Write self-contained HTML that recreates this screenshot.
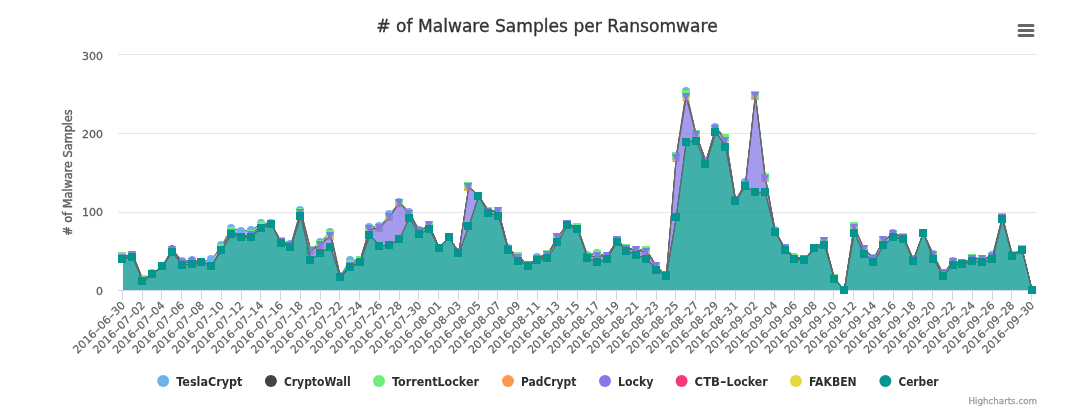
<!DOCTYPE html>
<html lang="en"><head><meta charset="utf-8"><title># of Malware Samples per Ransomware</title>
<style>html,body{margin:0;padding:0;background:#fff;overflow:hidden}svg{display:block}</style></head>
<body>
<svg width="1083" height="416" viewBox="0 0 1083 416" style="font-family:'DejaVu Sans','Liberation Sans',sans-serif;font-size:12px">
<rect x="0" y="0" width="1083" height="416" fill="#ffffff"/>
<path d="M 118 54.5 L 1037 54.5" stroke="#e6e6e6" stroke-width="1" fill="none"/>
<path d="M 118 133.5 L 1037 133.5" stroke="#e6e6e6" stroke-width="1" fill="none"/>
<path d="M 118 212.5 L 1037 212.5" stroke="#e6e6e6" stroke-width="1" fill="none"/>
<path d="M 118 290.5 L 1037 290.5" stroke="#ccd6eb" stroke-width="1" fill="none"/>
<path d="M 122.5 290 L 122.5 300" stroke="#ccd6eb" stroke-width="1" fill="none"/>
<path d="M 142.5 290 L 142.5 300" stroke="#ccd6eb" stroke-width="1" fill="none"/>
<path d="M 161.5 290 L 161.5 300" stroke="#ccd6eb" stroke-width="1" fill="none"/>
<path d="M 181.5 290 L 181.5 300" stroke="#ccd6eb" stroke-width="1" fill="none"/>
<path d="M 201.5 290 L 201.5 300" stroke="#ccd6eb" stroke-width="1" fill="none"/>
<path d="M 221.5 290 L 221.5 300" stroke="#ccd6eb" stroke-width="1" fill="none"/>
<path d="M 241.5 290 L 241.5 300" stroke="#ccd6eb" stroke-width="1" fill="none"/>
<path d="M 260.5 290 L 260.5 300" stroke="#ccd6eb" stroke-width="1" fill="none"/>
<path d="M 280.5 290 L 280.5 300" stroke="#ccd6eb" stroke-width="1" fill="none"/>
<path d="M 300.5 290 L 300.5 300" stroke="#ccd6eb" stroke-width="1" fill="none"/>
<path d="M 320.5 290 L 320.5 300" stroke="#ccd6eb" stroke-width="1" fill="none"/>
<path d="M 339.5 290 L 339.5 300" stroke="#ccd6eb" stroke-width="1" fill="none"/>
<path d="M 359.5 290 L 359.5 300" stroke="#ccd6eb" stroke-width="1" fill="none"/>
<path d="M 379.5 290 L 379.5 300" stroke="#ccd6eb" stroke-width="1" fill="none"/>
<path d="M 399.5 290 L 399.5 300" stroke="#ccd6eb" stroke-width="1" fill="none"/>
<path d="M 418.5 290 L 418.5 300" stroke="#ccd6eb" stroke-width="1" fill="none"/>
<path d="M 438.5 290 L 438.5 300" stroke="#ccd6eb" stroke-width="1" fill="none"/>
<path d="M 458.5 290 L 458.5 300" stroke="#ccd6eb" stroke-width="1" fill="none"/>
<path d="M 478.5 290 L 478.5 300" stroke="#ccd6eb" stroke-width="1" fill="none"/>
<path d="M 497.5 290 L 497.5 300" stroke="#ccd6eb" stroke-width="1" fill="none"/>
<path d="M 517.5 290 L 517.5 300" stroke="#ccd6eb" stroke-width="1" fill="none"/>
<path d="M 537.5 290 L 537.5 300" stroke="#ccd6eb" stroke-width="1" fill="none"/>
<path d="M 557.5 290 L 557.5 300" stroke="#ccd6eb" stroke-width="1" fill="none"/>
<path d="M 577.5 290 L 577.5 300" stroke="#ccd6eb" stroke-width="1" fill="none"/>
<path d="M 596.5 290 L 596.5 300" stroke="#ccd6eb" stroke-width="1" fill="none"/>
<path d="M 616.5 290 L 616.5 300" stroke="#ccd6eb" stroke-width="1" fill="none"/>
<path d="M 636.5 290 L 636.5 300" stroke="#ccd6eb" stroke-width="1" fill="none"/>
<path d="M 656.5 290 L 656.5 300" stroke="#ccd6eb" stroke-width="1" fill="none"/>
<path d="M 675.5 290 L 675.5 300" stroke="#ccd6eb" stroke-width="1" fill="none"/>
<path d="M 695.5 290 L 695.5 300" stroke="#ccd6eb" stroke-width="1" fill="none"/>
<path d="M 715.5 290 L 715.5 300" stroke="#ccd6eb" stroke-width="1" fill="none"/>
<path d="M 735.5 290 L 735.5 300" stroke="#ccd6eb" stroke-width="1" fill="none"/>
<path d="M 754.5 290 L 754.5 300" stroke="#ccd6eb" stroke-width="1" fill="none"/>
<path d="M 774.5 290 L 774.5 300" stroke="#ccd6eb" stroke-width="1" fill="none"/>
<path d="M 794.5 290 L 794.5 300" stroke="#ccd6eb" stroke-width="1" fill="none"/>
<path d="M 814.5 290 L 814.5 300" stroke="#ccd6eb" stroke-width="1" fill="none"/>
<path d="M 833.5 290 L 833.5 300" stroke="#ccd6eb" stroke-width="1" fill="none"/>
<path d="M 853.5 290 L 853.5 300" stroke="#ccd6eb" stroke-width="1" fill="none"/>
<path d="M 873.5 290 L 873.5 300" stroke="#ccd6eb" stroke-width="1" fill="none"/>
<path d="M 893.5 290 L 893.5 300" stroke="#ccd6eb" stroke-width="1" fill="none"/>
<path d="M 912.5 290 L 912.5 300" stroke="#ccd6eb" stroke-width="1" fill="none"/>
<path d="M 932.5 290 L 932.5 300" stroke="#ccd6eb" stroke-width="1" fill="none"/>
<path d="M 952.5 290 L 952.5 300" stroke="#ccd6eb" stroke-width="1" fill="none"/>
<path d="M 972.5 290 L 972.5 300" stroke="#ccd6eb" stroke-width="1" fill="none"/>
<path d="M 992.5 290 L 992.5 300" stroke="#ccd6eb" stroke-width="1" fill="none"/>
<path d="M 1011.5 290 L 1011.5 300" stroke="#ccd6eb" stroke-width="1" fill="none"/>
<path d="M 1031.5 290 L 1031.5 300" stroke="#ccd6eb" stroke-width="1" fill="none"/>
<g>
<g>
<path d="M 122.94 256.17 L 132.82 254.60 L 142.70 278.99 L 152.59 273.48 L 162.47 265.61 L 172.35 249.09 L 182.23 260.89 L 192.11 260.11 L 201.99 261.68 L 211.88 259.32 L 221.76 245.16 L 231.64 227.85 L 241.52 231.00 L 251.40 230.21 L 261.28 223.13 L 271.17 223.13 L 281.05 241.23 L 290.93 244.37 L 300.81 209.76 L 310.69 249.88 L 320.58 242.01 L 330.46 231.79 L 340.34 275.84 L 350.22 260.11 L 360.10 260.11 L 369.98 227.07 L 379.87 226.28 L 389.75 214.48 L 399.63 201.89 L 409.51 212.12 L 419.39 230.21 L 429.27 225.49 L 439.16 247.52 L 449.04 237.29 L 458.92 252.24 L 468.80 186.16 L 478.68 195.60 L 488.56 210.55 L 498.45 210.55 L 508.33 248.31 L 518.21 256.17 L 528.09 264.83 L 537.97 256.96 L 547.85 253.81 L 557.74 236.51 L 567.62 223.92 L 577.50 227.07 L 587.38 254.60 L 597.26 253.03 L 607.15 256.17 L 617.03 240.44 L 626.91 248.31 L 636.79 249.88 L 646.67 249.88 L 656.55 266.40 L 666.44 275.05 L 676.32 156.27 L 686.20 90.97 L 696.08 134.24 L 705.96 160.99 L 715.84 127.16 L 725.73 138.17 L 735.61 200.32 L 745.49 182.23 L 755.37 94.91 L 765.25 176.72 L 775.13 230.21 L 785.02 248.31 L 794.90 256.96 L 804.78 258.53 L 814.66 247.52 L 824.54 241.23 L 834.42 278.20 L 844.31 290.00 L 854.19 226.28 L 864.07 249.09 L 873.95 257.75 L 883.83 239.65 L 893.72 233.36 L 903.60 236.51 L 913.48 259.32 L 923.36 232.57 L 933.24 253.81 L 943.12 273.48 L 953.01 260.89 L 962.89 263.25 L 972.77 257.75 L 982.65 258.53 L 992.53 255.39 L 1002.41 216.84 L 1012.30 254.60 L 1022.18 249.09 L 1032.06 290.00 L 1032.06 290.00 L 1022.18 249.09 L 1012.30 254.60 L 1002.41 216.84 L 992.53 256.96 L 982.65 259.32 L 972.77 257.75 L 962.89 263.25 L 953.01 262.47 L 943.12 273.48 L 933.24 255.39 L 923.36 232.57 L 913.48 260.11 L 903.60 236.51 L 893.72 234.15 L 883.83 239.65 L 873.95 258.53 L 864.07 249.09 L 854.19 226.28 L 844.31 290.00 L 834.42 278.20 L 824.54 241.23 L 814.66 247.52 L 804.78 258.53 L 794.90 257.75 L 785.02 248.31 L 775.13 231.00 L 765.25 176.72 L 755.37 94.91 L 745.49 184.59 L 735.61 200.32 L 725.73 138.17 L 715.84 128.73 L 705.96 160.99 L 696.08 134.24 L 686.20 94.12 L 676.32 156.27 L 666.44 275.05 L 656.55 266.40 L 646.67 249.88 L 636.79 249.88 L 626.91 248.31 L 617.03 240.44 L 607.15 256.17 L 597.26 253.81 L 587.38 256.17 L 577.50 227.07 L 567.62 223.92 L 557.74 236.51 L 547.85 253.81 L 537.97 258.53 L 528.09 264.83 L 518.21 256.17 L 508.33 249.09 L 498.45 210.55 L 488.56 210.55 L 478.68 195.60 L 468.80 186.16 L 458.92 252.24 L 449.04 237.29 L 439.16 247.52 L 429.27 225.49 L 419.39 231.00 L 409.51 214.48 L 399.63 202.68 L 389.75 216.84 L 379.87 227.85 L 369.98 228.64 L 360.10 260.11 L 350.22 264.04 L 340.34 277.41 L 330.46 234.15 L 320.58 244.37 L 310.69 249.88 L 300.81 212.12 L 290.93 245.16 L 281.05 241.23 L 271.17 223.92 L 261.28 225.49 L 251.40 234.15 L 241.52 236.51 L 231.64 231.00 L 221.76 247.52 L 211.88 265.61 L 201.99 261.68 L 192.11 260.89 L 182.23 263.25 L 172.35 249.09 L 162.47 266.40 L 152.59 274.27 L 142.70 278.99 L 132.82 254.60 L 122.94 256.17 Z" fill="#6eb1ef" fill-opacity="0.75" stroke="none"/>
<path d="M 122.94 256.17 L 132.82 254.60 L 142.70 278.99 L 152.59 273.48 L 162.47 265.61 L 172.35 249.09 L 182.23 260.89 L 192.11 260.11 L 201.99 261.68 L 211.88 259.32 L 221.76 245.16 L 231.64 227.85 L 241.52 231.00 L 251.40 230.21 L 261.28 223.13 L 271.17 223.13 L 281.05 241.23 L 290.93 244.37 L 300.81 209.76 L 310.69 249.88 L 320.58 242.01 L 330.46 231.79 L 340.34 275.84 L 350.22 260.11 L 360.10 260.11 L 369.98 227.07 L 379.87 226.28 L 389.75 214.48 L 399.63 201.89 L 409.51 212.12 L 419.39 230.21 L 429.27 225.49 L 439.16 247.52 L 449.04 237.29 L 458.92 252.24 L 468.80 186.16 L 478.68 195.60 L 488.56 210.55 L 498.45 210.55 L 508.33 248.31 L 518.21 256.17 L 528.09 264.83 L 537.97 256.96 L 547.85 253.81 L 557.74 236.51 L 567.62 223.92 L 577.50 227.07 L 587.38 254.60 L 597.26 253.03 L 607.15 256.17 L 617.03 240.44 L 626.91 248.31 L 636.79 249.88 L 646.67 249.88 L 656.55 266.40 L 666.44 275.05 L 676.32 156.27 L 686.20 90.97 L 696.08 134.24 L 705.96 160.99 L 715.84 127.16 L 725.73 138.17 L 735.61 200.32 L 745.49 182.23 L 755.37 94.91 L 765.25 176.72 L 775.13 230.21 L 785.02 248.31 L 794.90 256.96 L 804.78 258.53 L 814.66 247.52 L 824.54 241.23 L 834.42 278.20 L 844.31 290.00 L 854.19 226.28 L 864.07 249.09 L 873.95 257.75 L 883.83 239.65 L 893.72 233.36 L 903.60 236.51 L 913.48 259.32 L 923.36 232.57 L 933.24 253.81 L 943.12 273.48 L 953.01 260.89 L 962.89 263.25 L 972.77 257.75 L 982.65 258.53 L 992.53 255.39 L 1002.41 216.84 L 1012.30 254.60 L 1022.18 249.09 L 1032.06 290.00" fill="none" stroke="#666666" stroke-width="1" stroke-linejoin="round" stroke-linecap="round"/>
</g><g>
<circle cx="122" cy="256" r="4" fill="#6eb1ef"/>
<circle cx="132" cy="255" r="4" fill="#6eb1ef"/>
<circle cx="142" cy="279" r="4" fill="#6eb1ef"/>
<circle cx="152" cy="273" r="4" fill="#6eb1ef"/>
<circle cx="162" cy="266" r="4" fill="#6eb1ef"/>
<circle cx="172" cy="249" r="4" fill="#6eb1ef"/>
<circle cx="182" cy="261" r="4" fill="#6eb1ef"/>
<circle cx="192" cy="260" r="4" fill="#6eb1ef"/>
<circle cx="201" cy="262" r="4" fill="#6eb1ef"/>
<circle cx="211" cy="259" r="4" fill="#6eb1ef"/>
<circle cx="221" cy="245" r="4" fill="#6eb1ef"/>
<circle cx="231" cy="228" r="4" fill="#6eb1ef"/>
<circle cx="241" cy="231" r="4" fill="#6eb1ef"/>
<circle cx="251" cy="230" r="4" fill="#6eb1ef"/>
<circle cx="261" cy="223" r="4" fill="#6eb1ef"/>
<circle cx="271" cy="223" r="4" fill="#6eb1ef"/>
<circle cx="281" cy="241" r="4" fill="#6eb1ef"/>
<circle cx="290" cy="244" r="4" fill="#6eb1ef"/>
<circle cx="300" cy="210" r="4" fill="#6eb1ef"/>
<circle cx="310" cy="250" r="4" fill="#6eb1ef"/>
<circle cx="320" cy="242" r="4" fill="#6eb1ef"/>
<circle cx="330" cy="232" r="4" fill="#6eb1ef"/>
<circle cx="340" cy="276" r="4" fill="#6eb1ef"/>
<circle cx="350" cy="260" r="4" fill="#6eb1ef"/>
<circle cx="360" cy="260" r="4" fill="#6eb1ef"/>
<circle cx="369" cy="227" r="4" fill="#6eb1ef"/>
<circle cx="379" cy="226" r="4" fill="#6eb1ef"/>
<circle cx="389" cy="214" r="4" fill="#6eb1ef"/>
<circle cx="399" cy="202" r="4" fill="#6eb1ef"/>
<circle cx="409" cy="212" r="4" fill="#6eb1ef"/>
<circle cx="419" cy="230" r="4" fill="#6eb1ef"/>
<circle cx="429" cy="225" r="4" fill="#6eb1ef"/>
<circle cx="439" cy="248" r="4" fill="#6eb1ef"/>
<circle cx="449" cy="237" r="4" fill="#6eb1ef"/>
<circle cx="458" cy="252" r="4" fill="#6eb1ef"/>
<circle cx="468" cy="186" r="4" fill="#6eb1ef"/>
<circle cx="478" cy="196" r="4" fill="#6eb1ef"/>
<circle cx="488" cy="211" r="4" fill="#6eb1ef"/>
<circle cx="498" cy="211" r="4" fill="#6eb1ef"/>
<circle cx="508" cy="248" r="4" fill="#6eb1ef"/>
<circle cx="518" cy="256" r="4" fill="#6eb1ef"/>
<circle cx="528" cy="265" r="4" fill="#6eb1ef"/>
<circle cx="537" cy="257" r="4" fill="#6eb1ef"/>
<circle cx="547" cy="254" r="4" fill="#6eb1ef"/>
<circle cx="557" cy="237" r="4" fill="#6eb1ef"/>
<circle cx="567" cy="224" r="4" fill="#6eb1ef"/>
<circle cx="577" cy="227" r="4" fill="#6eb1ef"/>
<circle cx="587" cy="255" r="4" fill="#6eb1ef"/>
<circle cx="597" cy="253" r="4" fill="#6eb1ef"/>
<circle cx="607" cy="256" r="4" fill="#6eb1ef"/>
<circle cx="617" cy="240" r="4" fill="#6eb1ef"/>
<circle cx="626" cy="248" r="4" fill="#6eb1ef"/>
<circle cx="636" cy="250" r="4" fill="#6eb1ef"/>
<circle cx="646" cy="250" r="4" fill="#6eb1ef"/>
<circle cx="656" cy="266" r="4" fill="#6eb1ef"/>
<circle cx="666" cy="275" r="4" fill="#6eb1ef"/>
<circle cx="676" cy="156" r="4" fill="#6eb1ef"/>
<circle cx="686" cy="91" r="4" fill="#6eb1ef"/>
<circle cx="696" cy="134" r="4" fill="#6eb1ef"/>
<circle cx="705" cy="161" r="4" fill="#6eb1ef"/>
<circle cx="715" cy="127" r="4" fill="#6eb1ef"/>
<circle cx="725" cy="138" r="4" fill="#6eb1ef"/>
<circle cx="735" cy="200" r="4" fill="#6eb1ef"/>
<circle cx="745" cy="182" r="4" fill="#6eb1ef"/>
<circle cx="755" cy="95" r="4" fill="#6eb1ef"/>
<circle cx="765" cy="177" r="4" fill="#6eb1ef"/>
<circle cx="775" cy="230" r="4" fill="#6eb1ef"/>
<circle cx="785" cy="248" r="4" fill="#6eb1ef"/>
<circle cx="794" cy="257" r="4" fill="#6eb1ef"/>
<circle cx="804" cy="259" r="4" fill="#6eb1ef"/>
<circle cx="814" cy="248" r="4" fill="#6eb1ef"/>
<circle cx="824" cy="241" r="4" fill="#6eb1ef"/>
<circle cx="834" cy="278" r="4" fill="#6eb1ef"/>
<circle cx="844" cy="290" r="4" fill="#6eb1ef"/>
<circle cx="854" cy="226" r="4" fill="#6eb1ef"/>
<circle cx="864" cy="249" r="4" fill="#6eb1ef"/>
<circle cx="873" cy="258" r="4" fill="#6eb1ef"/>
<circle cx="883" cy="240" r="4" fill="#6eb1ef"/>
<circle cx="893" cy="233" r="4" fill="#6eb1ef"/>
<circle cx="903" cy="237" r="4" fill="#6eb1ef"/>
<circle cx="913" cy="259" r="4" fill="#6eb1ef"/>
<circle cx="923" cy="233" r="4" fill="#6eb1ef"/>
<circle cx="933" cy="254" r="4" fill="#6eb1ef"/>
<circle cx="943" cy="273" r="4" fill="#6eb1ef"/>
<circle cx="953" cy="261" r="4" fill="#6eb1ef"/>
<circle cx="962" cy="263" r="4" fill="#6eb1ef"/>
<circle cx="972" cy="258" r="4" fill="#6eb1ef"/>
<circle cx="982" cy="259" r="4" fill="#6eb1ef"/>
<circle cx="992" cy="255" r="4" fill="#6eb1ef"/>
<circle cx="1002" cy="217" r="4" fill="#6eb1ef"/>
<circle cx="1012" cy="255" r="4" fill="#6eb1ef"/>
<circle cx="1022" cy="249" r="4" fill="#6eb1ef"/>
<circle cx="1032" cy="290" r="4" fill="#6eb1ef"/>
</g>
<g>
<path d="M 122.94 256.17 L 132.82 254.60 L 142.70 278.99 L 152.59 274.27 L 162.47 266.40 L 172.35 249.09 L 182.23 263.25 L 192.11 260.89 L 201.99 261.68 L 211.88 265.61 L 221.76 247.52 L 231.64 231.00 L 241.52 236.51 L 251.40 234.15 L 261.28 225.49 L 271.17 223.92 L 281.05 241.23 L 290.93 245.16 L 300.81 212.12 L 310.69 249.88 L 320.58 244.37 L 330.46 234.15 L 340.34 277.41 L 350.22 264.04 L 360.10 260.11 L 369.98 228.64 L 379.87 227.85 L 389.75 216.84 L 399.63 202.68 L 409.51 214.48 L 419.39 231.00 L 429.27 225.49 L 439.16 247.52 L 449.04 237.29 L 458.92 252.24 L 468.80 186.16 L 478.68 195.60 L 488.56 210.55 L 498.45 210.55 L 508.33 249.09 L 518.21 256.17 L 528.09 264.83 L 537.97 258.53 L 547.85 253.81 L 557.74 236.51 L 567.62 223.92 L 577.50 227.07 L 587.38 256.17 L 597.26 253.81 L 607.15 256.17 L 617.03 240.44 L 626.91 248.31 L 636.79 249.88 L 646.67 249.88 L 656.55 266.40 L 666.44 275.05 L 676.32 156.27 L 686.20 94.12 L 696.08 134.24 L 705.96 160.99 L 715.84 128.73 L 725.73 138.17 L 735.61 200.32 L 745.49 184.59 L 755.37 94.91 L 765.25 176.72 L 775.13 231.00 L 785.02 248.31 L 794.90 257.75 L 804.78 258.53 L 814.66 247.52 L 824.54 241.23 L 834.42 278.20 L 844.31 290.00 L 854.19 226.28 L 864.07 249.09 L 873.95 258.53 L 883.83 239.65 L 893.72 234.15 L 903.60 236.51 L 913.48 260.11 L 923.36 232.57 L 933.24 255.39 L 943.12 273.48 L 953.01 262.47 L 962.89 263.25 L 972.77 257.75 L 982.65 259.32 L 992.53 256.96 L 1002.41 216.84 L 1012.30 254.60 L 1022.18 249.09 L 1032.06 290.00 L 1032.06 290.00 L 1022.18 249.09 L 1012.30 254.60 L 1002.41 216.84 L 992.53 256.96 L 982.65 259.32 L 972.77 257.75 L 962.89 263.25 L 953.01 262.47 L 943.12 273.48 L 933.24 255.39 L 923.36 232.57 L 913.48 260.11 L 903.60 236.51 L 893.72 234.15 L 883.83 239.65 L 873.95 258.53 L 864.07 249.09 L 854.19 226.28 L 844.31 290.00 L 834.42 278.20 L 824.54 241.23 L 814.66 247.52 L 804.78 258.53 L 794.90 257.75 L 785.02 248.31 L 775.13 231.00 L 765.25 176.72 L 755.37 94.91 L 745.49 184.59 L 735.61 200.32 L 725.73 138.17 L 715.84 128.73 L 705.96 160.99 L 696.08 134.24 L 686.20 94.12 L 676.32 156.27 L 666.44 275.05 L 656.55 266.40 L 646.67 249.88 L 636.79 249.88 L 626.91 248.31 L 617.03 240.44 L 607.15 256.17 L 597.26 253.81 L 587.38 256.17 L 577.50 227.07 L 567.62 223.92 L 557.74 236.51 L 547.85 253.81 L 537.97 258.53 L 528.09 264.83 L 518.21 256.17 L 508.33 249.09 L 498.45 210.55 L 488.56 210.55 L 478.68 195.60 L 468.80 186.16 L 458.92 252.24 L 449.04 237.29 L 439.16 247.52 L 429.27 225.49 L 419.39 231.00 L 409.51 214.48 L 399.63 202.68 L 389.75 216.84 L 379.87 227.85 L 369.98 228.64 L 360.10 260.11 L 350.22 264.04 L 340.34 277.41 L 330.46 234.15 L 320.58 244.37 L 310.69 249.88 L 300.81 212.12 L 290.93 245.16 L 281.05 241.23 L 271.17 223.92 L 261.28 225.49 L 251.40 234.15 L 241.52 236.51 L 231.64 231.00 L 221.76 247.52 L 211.88 265.61 L 201.99 261.68 L 192.11 261.68 L 182.23 263.25 L 172.35 249.88 L 162.47 266.40 L 152.59 274.27 L 142.70 278.99 L 132.82 254.60 L 122.94 256.17 Z" fill="#434348" fill-opacity="0.75" stroke="none"/>
<path d="M 122.94 256.17 L 132.82 254.60 L 142.70 278.99 L 152.59 274.27 L 162.47 266.40 L 172.35 249.09 L 182.23 263.25 L 192.11 260.89 L 201.99 261.68 L 211.88 265.61 L 221.76 247.52 L 231.64 231.00 L 241.52 236.51 L 251.40 234.15 L 261.28 225.49 L 271.17 223.92 L 281.05 241.23 L 290.93 245.16 L 300.81 212.12 L 310.69 249.88 L 320.58 244.37 L 330.46 234.15 L 340.34 277.41 L 350.22 264.04 L 360.10 260.11 L 369.98 228.64 L 379.87 227.85 L 389.75 216.84 L 399.63 202.68 L 409.51 214.48 L 419.39 231.00 L 429.27 225.49 L 439.16 247.52 L 449.04 237.29 L 458.92 252.24 L 468.80 186.16 L 478.68 195.60 L 488.56 210.55 L 498.45 210.55 L 508.33 249.09 L 518.21 256.17 L 528.09 264.83 L 537.97 258.53 L 547.85 253.81 L 557.74 236.51 L 567.62 223.92 L 577.50 227.07 L 587.38 256.17 L 597.26 253.81 L 607.15 256.17 L 617.03 240.44 L 626.91 248.31 L 636.79 249.88 L 646.67 249.88 L 656.55 266.40 L 666.44 275.05 L 676.32 156.27 L 686.20 94.12 L 696.08 134.24 L 705.96 160.99 L 715.84 128.73 L 725.73 138.17 L 735.61 200.32 L 745.49 184.59 L 755.37 94.91 L 765.25 176.72 L 775.13 231.00 L 785.02 248.31 L 794.90 257.75 L 804.78 258.53 L 814.66 247.52 L 824.54 241.23 L 834.42 278.20 L 844.31 290.00 L 854.19 226.28 L 864.07 249.09 L 873.95 258.53 L 883.83 239.65 L 893.72 234.15 L 903.60 236.51 L 913.48 260.11 L 923.36 232.57 L 933.24 255.39 L 943.12 273.48 L 953.01 262.47 L 962.89 263.25 L 972.77 257.75 L 982.65 259.32 L 992.53 256.96 L 1002.41 216.84 L 1012.30 254.60 L 1022.18 249.09 L 1032.06 290.00" fill="none" stroke="#666666" stroke-width="1" stroke-linejoin="round" stroke-linecap="round"/>
</g><g>
<path d="M 122 252 L 126 256 L 122 260 L 118 256 Z" fill="#434348"/>
<path d="M 132 251 L 136 255 L 132 259 L 128 255 Z" fill="#434348"/>
<path d="M 142 275 L 146 279 L 142 283 L 138 279 Z" fill="#434348"/>
<path d="M 152 270 L 156 274 L 152 278 L 148 274 Z" fill="#434348"/>
<path d="M 162 262 L 166 266 L 162 270 L 158 266 Z" fill="#434348"/>
<path d="M 172 245 L 176 249 L 172 253 L 168 249 Z" fill="#434348"/>
<path d="M 182 259 L 186 263 L 182 267 L 178 263 Z" fill="#434348"/>
<path d="M 192 257 L 196 261 L 192 265 L 188 261 Z" fill="#434348"/>
<path d="M 201 258 L 205 262 L 201 266 L 197 262 Z" fill="#434348"/>
<path d="M 211 262 L 215 266 L 211 270 L 207 266 Z" fill="#434348"/>
<path d="M 221 244 L 225 248 L 221 252 L 217 248 Z" fill="#434348"/>
<path d="M 231 227 L 235 231 L 231 235 L 227 231 Z" fill="#434348"/>
<path d="M 241 233 L 245 237 L 241 241 L 237 237 Z" fill="#434348"/>
<path d="M 251 230 L 255 234 L 251 238 L 247 234 Z" fill="#434348"/>
<path d="M 261 221 L 265 225 L 261 229 L 257 225 Z" fill="#434348"/>
<path d="M 271 220 L 275 224 L 271 228 L 267 224 Z" fill="#434348"/>
<path d="M 281 237 L 285 241 L 281 245 L 277 241 Z" fill="#434348"/>
<path d="M 290 241 L 294 245 L 290 249 L 286 245 Z" fill="#434348"/>
<path d="M 300 208 L 304 212 L 300 216 L 296 212 Z" fill="#434348"/>
<path d="M 310 246 L 314 250 L 310 254 L 306 250 Z" fill="#434348"/>
<path d="M 320 240 L 324 244 L 320 248 L 316 244 Z" fill="#434348"/>
<path d="M 330 230 L 334 234 L 330 238 L 326 234 Z" fill="#434348"/>
<path d="M 340 273 L 344 277 L 340 281 L 336 277 Z" fill="#434348"/>
<path d="M 350 260 L 354 264 L 350 268 L 346 264 Z" fill="#434348"/>
<path d="M 360 256 L 364 260 L 360 264 L 356 260 Z" fill="#434348"/>
<path d="M 369 225 L 373 229 L 369 233 L 365 229 Z" fill="#434348"/>
<path d="M 379 224 L 383 228 L 379 232 L 375 228 Z" fill="#434348"/>
<path d="M 389 213 L 393 217 L 389 221 L 385 217 Z" fill="#434348"/>
<path d="M 399 199 L 403 203 L 399 207 L 395 203 Z" fill="#434348"/>
<path d="M 409 210 L 413 214 L 409 218 L 405 214 Z" fill="#434348"/>
<path d="M 419 227 L 423 231 L 419 235 L 415 231 Z" fill="#434348"/>
<path d="M 429 221 L 433 225 L 429 229 L 425 225 Z" fill="#434348"/>
<path d="M 439 244 L 443 248 L 439 252 L 435 248 Z" fill="#434348"/>
<path d="M 449 233 L 453 237 L 449 241 L 445 237 Z" fill="#434348"/>
<path d="M 458 248 L 462 252 L 458 256 L 454 252 Z" fill="#434348"/>
<path d="M 468 182 L 472 186 L 468 190 L 464 186 Z" fill="#434348"/>
<path d="M 478 192 L 482 196 L 478 200 L 474 196 Z" fill="#434348"/>
<path d="M 488 207 L 492 211 L 488 215 L 484 211 Z" fill="#434348"/>
<path d="M 498 207 L 502 211 L 498 215 L 494 211 Z" fill="#434348"/>
<path d="M 508 245 L 512 249 L 508 253 L 504 249 Z" fill="#434348"/>
<path d="M 518 252 L 522 256 L 518 260 L 514 256 Z" fill="#434348"/>
<path d="M 528 261 L 532 265 L 528 269 L 524 265 Z" fill="#434348"/>
<path d="M 537 255 L 541 259 L 537 263 L 533 259 Z" fill="#434348"/>
<path d="M 547 250 L 551 254 L 547 258 L 543 254 Z" fill="#434348"/>
<path d="M 557 233 L 561 237 L 557 241 L 553 237 Z" fill="#434348"/>
<path d="M 567 220 L 571 224 L 567 228 L 563 224 Z" fill="#434348"/>
<path d="M 577 223 L 581 227 L 577 231 L 573 227 Z" fill="#434348"/>
<path d="M 587 252 L 591 256 L 587 260 L 583 256 Z" fill="#434348"/>
<path d="M 597 250 L 601 254 L 597 258 L 593 254 Z" fill="#434348"/>
<path d="M 607 252 L 611 256 L 607 260 L 603 256 Z" fill="#434348"/>
<path d="M 617 236 L 621 240 L 617 244 L 613 240 Z" fill="#434348"/>
<path d="M 626 244 L 630 248 L 626 252 L 622 248 Z" fill="#434348"/>
<path d="M 636 246 L 640 250 L 636 254 L 632 250 Z" fill="#434348"/>
<path d="M 646 246 L 650 250 L 646 254 L 642 250 Z" fill="#434348"/>
<path d="M 656 262 L 660 266 L 656 270 L 652 266 Z" fill="#434348"/>
<path d="M 666 271 L 670 275 L 666 279 L 662 275 Z" fill="#434348"/>
<path d="M 676 152 L 680 156 L 676 160 L 672 156 Z" fill="#434348"/>
<path d="M 686 90 L 690 94 L 686 98 L 682 94 Z" fill="#434348"/>
<path d="M 696 130 L 700 134 L 696 138 L 692 134 Z" fill="#434348"/>
<path d="M 705 157 L 709 161 L 705 165 L 701 161 Z" fill="#434348"/>
<path d="M 715 125 L 719 129 L 715 133 L 711 129 Z" fill="#434348"/>
<path d="M 725 134 L 729 138 L 725 142 L 721 138 Z" fill="#434348"/>
<path d="M 735 196 L 739 200 L 735 204 L 731 200 Z" fill="#434348"/>
<path d="M 745 181 L 749 185 L 745 189 L 741 185 Z" fill="#434348"/>
<path d="M 755 91 L 759 95 L 755 99 L 751 95 Z" fill="#434348"/>
<path d="M 765 173 L 769 177 L 765 181 L 761 177 Z" fill="#434348"/>
<path d="M 775 227 L 779 231 L 775 235 L 771 231 Z" fill="#434348"/>
<path d="M 785 244 L 789 248 L 785 252 L 781 248 Z" fill="#434348"/>
<path d="M 794 254 L 798 258 L 794 262 L 790 258 Z" fill="#434348"/>
<path d="M 804 255 L 808 259 L 804 263 L 800 259 Z" fill="#434348"/>
<path d="M 814 244 L 818 248 L 814 252 L 810 248 Z" fill="#434348"/>
<path d="M 824 237 L 828 241 L 824 245 L 820 241 Z" fill="#434348"/>
<path d="M 834 274 L 838 278 L 834 282 L 830 278 Z" fill="#434348"/>
<path d="M 844 286 L 848 290 L 844 294 L 840 290 Z" fill="#434348"/>
<path d="M 854 222 L 858 226 L 854 230 L 850 226 Z" fill="#434348"/>
<path d="M 864 245 L 868 249 L 864 253 L 860 249 Z" fill="#434348"/>
<path d="M 873 255 L 877 259 L 873 263 L 869 259 Z" fill="#434348"/>
<path d="M 883 236 L 887 240 L 883 244 L 879 240 Z" fill="#434348"/>
<path d="M 893 230 L 897 234 L 893 238 L 889 234 Z" fill="#434348"/>
<path d="M 903 233 L 907 237 L 903 241 L 899 237 Z" fill="#434348"/>
<path d="M 913 256 L 917 260 L 913 264 L 909 260 Z" fill="#434348"/>
<path d="M 923 229 L 927 233 L 923 237 L 919 233 Z" fill="#434348"/>
<path d="M 933 251 L 937 255 L 933 259 L 929 255 Z" fill="#434348"/>
<path d="M 943 269 L 947 273 L 943 277 L 939 273 Z" fill="#434348"/>
<path d="M 953 258 L 957 262 L 953 266 L 949 262 Z" fill="#434348"/>
<path d="M 962 259 L 966 263 L 962 267 L 958 263 Z" fill="#434348"/>
<path d="M 972 254 L 976 258 L 972 262 L 968 258 Z" fill="#434348"/>
<path d="M 982 255 L 986 259 L 982 263 L 978 259 Z" fill="#434348"/>
<path d="M 992 253 L 996 257 L 992 261 L 988 257 Z" fill="#434348"/>
<path d="M 1002 213 L 1006 217 L 1002 221 L 998 217 Z" fill="#434348"/>
<path d="M 1012 251 L 1016 255 L 1012 259 L 1008 255 Z" fill="#434348"/>
<path d="M 1022 245 L 1026 249 L 1022 253 L 1018 249 Z" fill="#434348"/>
<path d="M 1032 286 L 1036 290 L 1032 294 L 1028 290 Z" fill="#434348"/>
</g>
<g>
<path d="M 122.94 256.17 L 132.82 254.60 L 142.70 278.99 L 152.59 274.27 L 162.47 266.40 L 172.35 249.88 L 182.23 263.25 L 192.11 261.68 L 201.99 261.68 L 211.88 265.61 L 221.76 247.52 L 231.64 231.00 L 241.52 236.51 L 251.40 234.15 L 261.28 225.49 L 271.17 223.92 L 281.05 241.23 L 290.93 245.16 L 300.81 212.12 L 310.69 249.88 L 320.58 244.37 L 330.46 234.15 L 340.34 277.41 L 350.22 264.04 L 360.10 260.11 L 369.98 228.64 L 379.87 227.85 L 389.75 216.84 L 399.63 202.68 L 409.51 214.48 L 419.39 231.00 L 429.27 225.49 L 439.16 247.52 L 449.04 237.29 L 458.92 252.24 L 468.80 186.16 L 478.68 195.60 L 488.56 210.55 L 498.45 210.55 L 508.33 249.09 L 518.21 256.17 L 528.09 264.83 L 537.97 258.53 L 547.85 253.81 L 557.74 236.51 L 567.62 223.92 L 577.50 227.07 L 587.38 256.17 L 597.26 253.81 L 607.15 256.17 L 617.03 240.44 L 626.91 248.31 L 636.79 249.88 L 646.67 249.88 L 656.55 266.40 L 666.44 275.05 L 676.32 156.27 L 686.20 94.12 L 696.08 134.24 L 705.96 160.99 L 715.84 128.73 L 725.73 138.17 L 735.61 200.32 L 745.49 184.59 L 755.37 94.91 L 765.25 176.72 L 775.13 231.00 L 785.02 248.31 L 794.90 257.75 L 804.78 258.53 L 814.66 247.52 L 824.54 241.23 L 834.42 278.20 L 844.31 290.00 L 854.19 226.28 L 864.07 249.09 L 873.95 258.53 L 883.83 239.65 L 893.72 234.15 L 903.60 236.51 L 913.48 260.11 L 923.36 232.57 L 933.24 255.39 L 943.12 273.48 L 953.01 262.47 L 962.89 263.25 L 972.77 257.75 L 982.65 259.32 L 992.53 256.96 L 1002.41 216.84 L 1012.30 254.60 L 1022.18 249.09 L 1032.06 290.00 L 1032.06 290.00 L 1022.18 249.88 L 1012.30 256.17 L 1002.41 218.41 L 992.53 256.96 L 982.65 259.32 L 972.77 258.53 L 962.89 263.25 L 953.01 262.47 L 943.12 273.48 L 933.24 255.39 L 923.36 232.57 L 913.48 260.11 L 903.60 238.08 L 893.72 234.15 L 883.83 240.44 L 873.95 258.53 L 864.07 249.09 L 854.19 227.85 L 844.31 290.00 L 834.42 278.99 L 824.54 241.23 L 814.66 248.31 L 804.78 258.53 L 794.90 258.53 L 785.02 248.31 L 775.13 231.79 L 765.25 178.29 L 755.37 96.48 L 745.49 184.59 L 735.61 200.32 L 725.73 140.53 L 715.84 128.73 L 705.96 160.99 L 696.08 135.03 L 686.20 97.27 L 676.32 157.84 L 666.44 275.05 L 656.55 266.40 L 646.67 252.24 L 636.79 249.88 L 626.91 249.09 L 617.03 240.44 L 607.15 256.17 L 597.26 256.17 L 587.38 256.96 L 577.50 228.64 L 567.62 223.92 L 557.74 237.29 L 547.85 255.39 L 537.97 259.32 L 528.09 264.83 L 518.21 257.75 L 508.33 249.09 L 498.45 210.55 L 488.56 212.12 L 478.68 195.60 L 468.80 186.95 L 458.92 252.24 L 449.04 237.29 L 439.16 247.52 L 429.27 225.49 L 419.39 231.00 L 409.51 214.48 L 399.63 202.68 L 389.75 216.84 L 379.87 227.85 L 369.98 229.43 L 360.10 262.47 L 350.22 265.61 L 340.34 277.41 L 330.46 235.72 L 320.58 245.16 L 310.69 250.67 L 300.81 212.91 L 290.93 245.16 L 281.05 242.01 L 271.17 223.92 L 261.28 227.85 L 251.40 234.93 L 241.52 236.51 L 231.64 232.57 L 221.76 249.88 L 211.88 265.61 L 201.99 261.68 L 192.11 261.68 L 182.23 263.25 L 172.35 249.88 L 162.47 266.40 L 152.59 274.27 L 142.70 281.35 L 132.82 255.39 L 122.94 257.75 Z" fill="#6bef7b" fill-opacity="0.75" stroke="none"/>
<path d="M 122.94 256.17 L 132.82 254.60 L 142.70 278.99 L 152.59 274.27 L 162.47 266.40 L 172.35 249.88 L 182.23 263.25 L 192.11 261.68 L 201.99 261.68 L 211.88 265.61 L 221.76 247.52 L 231.64 231.00 L 241.52 236.51 L 251.40 234.15 L 261.28 225.49 L 271.17 223.92 L 281.05 241.23 L 290.93 245.16 L 300.81 212.12 L 310.69 249.88 L 320.58 244.37 L 330.46 234.15 L 340.34 277.41 L 350.22 264.04 L 360.10 260.11 L 369.98 228.64 L 379.87 227.85 L 389.75 216.84 L 399.63 202.68 L 409.51 214.48 L 419.39 231.00 L 429.27 225.49 L 439.16 247.52 L 449.04 237.29 L 458.92 252.24 L 468.80 186.16 L 478.68 195.60 L 488.56 210.55 L 498.45 210.55 L 508.33 249.09 L 518.21 256.17 L 528.09 264.83 L 537.97 258.53 L 547.85 253.81 L 557.74 236.51 L 567.62 223.92 L 577.50 227.07 L 587.38 256.17 L 597.26 253.81 L 607.15 256.17 L 617.03 240.44 L 626.91 248.31 L 636.79 249.88 L 646.67 249.88 L 656.55 266.40 L 666.44 275.05 L 676.32 156.27 L 686.20 94.12 L 696.08 134.24 L 705.96 160.99 L 715.84 128.73 L 725.73 138.17 L 735.61 200.32 L 745.49 184.59 L 755.37 94.91 L 765.25 176.72 L 775.13 231.00 L 785.02 248.31 L 794.90 257.75 L 804.78 258.53 L 814.66 247.52 L 824.54 241.23 L 834.42 278.20 L 844.31 290.00 L 854.19 226.28 L 864.07 249.09 L 873.95 258.53 L 883.83 239.65 L 893.72 234.15 L 903.60 236.51 L 913.48 260.11 L 923.36 232.57 L 933.24 255.39 L 943.12 273.48 L 953.01 262.47 L 962.89 263.25 L 972.77 257.75 L 982.65 259.32 L 992.53 256.96 L 1002.41 216.84 L 1012.30 254.60 L 1022.18 249.09 L 1032.06 290.00" fill="none" stroke="#666666" stroke-width="1" stroke-linejoin="round" stroke-linecap="round"/>
</g><g>
<rect x="118" y="252" width="8" height="8" fill="#6bef7b"/>
<rect x="128" y="251" width="8" height="8" fill="#6bef7b"/>
<rect x="138" y="275" width="8" height="8" fill="#6bef7b"/>
<rect x="148" y="270" width="8" height="8" fill="#6bef7b"/>
<rect x="158" y="262" width="8" height="8" fill="#6bef7b"/>
<rect x="168" y="246" width="8" height="8" fill="#6bef7b"/>
<rect x="178" y="259" width="8" height="8" fill="#6bef7b"/>
<rect x="188" y="258" width="8" height="8" fill="#6bef7b"/>
<rect x="197" y="258" width="8" height="8" fill="#6bef7b"/>
<rect x="207" y="262" width="8" height="8" fill="#6bef7b"/>
<rect x="217" y="244" width="8" height="8" fill="#6bef7b"/>
<rect x="227" y="227" width="8" height="8" fill="#6bef7b"/>
<rect x="237" y="233" width="8" height="8" fill="#6bef7b"/>
<rect x="247" y="230" width="8" height="8" fill="#6bef7b"/>
<rect x="257" y="221" width="8" height="8" fill="#6bef7b"/>
<rect x="267" y="220" width="8" height="8" fill="#6bef7b"/>
<rect x="277" y="237" width="8" height="8" fill="#6bef7b"/>
<rect x="286" y="241" width="8" height="8" fill="#6bef7b"/>
<rect x="296" y="208" width="8" height="8" fill="#6bef7b"/>
<rect x="306" y="246" width="8" height="8" fill="#6bef7b"/>
<rect x="316" y="240" width="8" height="8" fill="#6bef7b"/>
<rect x="326" y="230" width="8" height="8" fill="#6bef7b"/>
<rect x="336" y="273" width="8" height="8" fill="#6bef7b"/>
<rect x="346" y="260" width="8" height="8" fill="#6bef7b"/>
<rect x="356" y="256" width="8" height="8" fill="#6bef7b"/>
<rect x="365" y="225" width="8" height="8" fill="#6bef7b"/>
<rect x="375" y="224" width="8" height="8" fill="#6bef7b"/>
<rect x="385" y="213" width="8" height="8" fill="#6bef7b"/>
<rect x="395" y="199" width="8" height="8" fill="#6bef7b"/>
<rect x="405" y="210" width="8" height="8" fill="#6bef7b"/>
<rect x="415" y="227" width="8" height="8" fill="#6bef7b"/>
<rect x="425" y="221" width="8" height="8" fill="#6bef7b"/>
<rect x="435" y="244" width="8" height="8" fill="#6bef7b"/>
<rect x="445" y="233" width="8" height="8" fill="#6bef7b"/>
<rect x="454" y="248" width="8" height="8" fill="#6bef7b"/>
<rect x="464" y="182" width="8" height="8" fill="#6bef7b"/>
<rect x="474" y="192" width="8" height="8" fill="#6bef7b"/>
<rect x="484" y="207" width="8" height="8" fill="#6bef7b"/>
<rect x="494" y="207" width="8" height="8" fill="#6bef7b"/>
<rect x="504" y="245" width="8" height="8" fill="#6bef7b"/>
<rect x="514" y="252" width="8" height="8" fill="#6bef7b"/>
<rect x="524" y="261" width="8" height="8" fill="#6bef7b"/>
<rect x="533" y="255" width="8" height="8" fill="#6bef7b"/>
<rect x="543" y="250" width="8" height="8" fill="#6bef7b"/>
<rect x="553" y="233" width="8" height="8" fill="#6bef7b"/>
<rect x="563" y="220" width="8" height="8" fill="#6bef7b"/>
<rect x="573" y="223" width="8" height="8" fill="#6bef7b"/>
<rect x="583" y="252" width="8" height="8" fill="#6bef7b"/>
<rect x="593" y="250" width="8" height="8" fill="#6bef7b"/>
<rect x="603" y="252" width="8" height="8" fill="#6bef7b"/>
<rect x="613" y="236" width="8" height="8" fill="#6bef7b"/>
<rect x="622" y="244" width="8" height="8" fill="#6bef7b"/>
<rect x="632" y="246" width="8" height="8" fill="#6bef7b"/>
<rect x="642" y="246" width="8" height="8" fill="#6bef7b"/>
<rect x="652" y="262" width="8" height="8" fill="#6bef7b"/>
<rect x="662" y="271" width="8" height="8" fill="#6bef7b"/>
<rect x="672" y="152" width="8" height="8" fill="#6bef7b"/>
<rect x="682" y="90" width="8" height="8" fill="#6bef7b"/>
<rect x="692" y="130" width="8" height="8" fill="#6bef7b"/>
<rect x="701" y="157" width="8" height="8" fill="#6bef7b"/>
<rect x="711" y="125" width="8" height="8" fill="#6bef7b"/>
<rect x="721" y="134" width="8" height="8" fill="#6bef7b"/>
<rect x="731" y="196" width="8" height="8" fill="#6bef7b"/>
<rect x="741" y="181" width="8" height="8" fill="#6bef7b"/>
<rect x="751" y="91" width="8" height="8" fill="#6bef7b"/>
<rect x="761" y="173" width="8" height="8" fill="#6bef7b"/>
<rect x="771" y="227" width="8" height="8" fill="#6bef7b"/>
<rect x="781" y="244" width="8" height="8" fill="#6bef7b"/>
<rect x="790" y="254" width="8" height="8" fill="#6bef7b"/>
<rect x="800" y="255" width="8" height="8" fill="#6bef7b"/>
<rect x="810" y="244" width="8" height="8" fill="#6bef7b"/>
<rect x="820" y="237" width="8" height="8" fill="#6bef7b"/>
<rect x="830" y="274" width="8" height="8" fill="#6bef7b"/>
<rect x="840" y="286" width="8" height="8" fill="#6bef7b"/>
<rect x="850" y="222" width="8" height="8" fill="#6bef7b"/>
<rect x="860" y="245" width="8" height="8" fill="#6bef7b"/>
<rect x="869" y="255" width="8" height="8" fill="#6bef7b"/>
<rect x="879" y="236" width="8" height="8" fill="#6bef7b"/>
<rect x="889" y="230" width="8" height="8" fill="#6bef7b"/>
<rect x="899" y="233" width="8" height="8" fill="#6bef7b"/>
<rect x="909" y="256" width="8" height="8" fill="#6bef7b"/>
<rect x="919" y="229" width="8" height="8" fill="#6bef7b"/>
<rect x="929" y="251" width="8" height="8" fill="#6bef7b"/>
<rect x="939" y="269" width="8" height="8" fill="#6bef7b"/>
<rect x="949" y="258" width="8" height="8" fill="#6bef7b"/>
<rect x="958" y="259" width="8" height="8" fill="#6bef7b"/>
<rect x="968" y="254" width="8" height="8" fill="#6bef7b"/>
<rect x="978" y="255" width="8" height="8" fill="#6bef7b"/>
<rect x="988" y="253" width="8" height="8" fill="#6bef7b"/>
<rect x="998" y="213" width="8" height="8" fill="#6bef7b"/>
<rect x="1008" y="251" width="8" height="8" fill="#6bef7b"/>
<rect x="1018" y="245" width="8" height="8" fill="#6bef7b"/>
<rect x="1028" y="286" width="8" height="8" fill="#6bef7b"/>
</g>
<g>
<path d="M 122.94 257.75 L 132.82 255.39 L 142.70 281.35 L 152.59 274.27 L 162.47 266.40 L 172.35 249.88 L 182.23 263.25 L 192.11 261.68 L 201.99 261.68 L 211.88 265.61 L 221.76 249.88 L 231.64 232.57 L 241.52 236.51 L 251.40 234.93 L 261.28 227.85 L 271.17 223.92 L 281.05 242.01 L 290.93 245.16 L 300.81 212.91 L 310.69 250.67 L 320.58 245.16 L 330.46 235.72 L 340.34 277.41 L 350.22 265.61 L 360.10 262.47 L 369.98 229.43 L 379.87 227.85 L 389.75 216.84 L 399.63 202.68 L 409.51 214.48 L 419.39 231.00 L 429.27 225.49 L 439.16 247.52 L 449.04 237.29 L 458.92 252.24 L 468.80 186.95 L 478.68 195.60 L 488.56 212.12 L 498.45 210.55 L 508.33 249.09 L 518.21 257.75 L 528.09 264.83 L 537.97 259.32 L 547.85 255.39 L 557.74 237.29 L 567.62 223.92 L 577.50 228.64 L 587.38 256.96 L 597.26 256.17 L 607.15 256.17 L 617.03 240.44 L 626.91 249.09 L 636.79 249.88 L 646.67 252.24 L 656.55 266.40 L 666.44 275.05 L 676.32 157.84 L 686.20 97.27 L 696.08 135.03 L 705.96 160.99 L 715.84 128.73 L 725.73 140.53 L 735.61 200.32 L 745.49 184.59 L 755.37 96.48 L 765.25 178.29 L 775.13 231.79 L 785.02 248.31 L 794.90 258.53 L 804.78 258.53 L 814.66 248.31 L 824.54 241.23 L 834.42 278.99 L 844.31 290.00 L 854.19 227.85 L 864.07 249.09 L 873.95 258.53 L 883.83 240.44 L 893.72 234.15 L 903.60 238.08 L 913.48 260.11 L 923.36 232.57 L 933.24 255.39 L 943.12 273.48 L 953.01 262.47 L 962.89 263.25 L 972.77 258.53 L 982.65 259.32 L 992.53 256.96 L 1002.41 218.41 L 1012.30 256.17 L 1022.18 249.88 L 1032.06 290.00 L 1032.06 290.00 L 1022.18 249.88 L 1012.30 256.17 L 1002.41 218.41 L 992.53 256.96 L 982.65 259.32 L 972.77 258.53 L 962.89 263.25 L 953.01 262.47 L 943.12 273.48 L 933.24 255.39 L 923.36 232.57 L 913.48 260.11 L 903.60 238.08 L 893.72 234.15 L 883.83 240.44 L 873.95 258.53 L 864.07 249.09 L 854.19 227.85 L 844.31 290.00 L 834.42 278.99 L 824.54 241.23 L 814.66 248.31 L 804.78 258.53 L 794.90 258.53 L 785.02 248.31 L 775.13 231.79 L 765.25 179.08 L 755.37 96.48 L 745.49 184.59 L 735.61 200.32 L 725.73 140.53 L 715.84 128.73 L 705.96 160.99 L 696.08 135.03 L 686.20 97.27 L 676.32 157.84 L 666.44 275.05 L 656.55 266.40 L 646.67 252.24 L 636.79 249.88 L 626.91 249.09 L 617.03 240.44 L 607.15 256.17 L 597.26 256.17 L 587.38 256.96 L 577.50 228.64 L 567.62 223.92 L 557.74 237.29 L 547.85 255.39 L 537.97 259.32 L 528.09 264.83 L 518.21 257.75 L 508.33 249.09 L 498.45 210.55 L 488.56 212.12 L 478.68 195.60 L 468.80 186.95 L 458.92 252.24 L 449.04 237.29 L 439.16 247.52 L 429.27 225.49 L 419.39 231.00 L 409.51 214.48 L 399.63 202.68 L 389.75 216.84 L 379.87 227.85 L 369.98 229.43 L 360.10 262.47 L 350.22 265.61 L 340.34 277.41 L 330.46 235.72 L 320.58 245.16 L 310.69 250.67 L 300.81 212.91 L 290.93 245.16 L 281.05 242.01 L 271.17 223.92 L 261.28 227.85 L 251.40 234.93 L 241.52 236.51 L 231.64 232.57 L 221.76 249.88 L 211.88 265.61 L 201.99 261.68 L 192.11 261.68 L 182.23 263.25 L 172.35 249.88 L 162.47 266.40 L 152.59 274.27 L 142.70 281.35 L 132.82 255.39 L 122.94 257.75 Z" fill="#fb9a4e" fill-opacity="0.75" stroke="none"/>
<path d="M 122.94 257.75 L 132.82 255.39 L 142.70 281.35 L 152.59 274.27 L 162.47 266.40 L 172.35 249.88 L 182.23 263.25 L 192.11 261.68 L 201.99 261.68 L 211.88 265.61 L 221.76 249.88 L 231.64 232.57 L 241.52 236.51 L 251.40 234.93 L 261.28 227.85 L 271.17 223.92 L 281.05 242.01 L 290.93 245.16 L 300.81 212.91 L 310.69 250.67 L 320.58 245.16 L 330.46 235.72 L 340.34 277.41 L 350.22 265.61 L 360.10 262.47 L 369.98 229.43 L 379.87 227.85 L 389.75 216.84 L 399.63 202.68 L 409.51 214.48 L 419.39 231.00 L 429.27 225.49 L 439.16 247.52 L 449.04 237.29 L 458.92 252.24 L 468.80 186.95 L 478.68 195.60 L 488.56 212.12 L 498.45 210.55 L 508.33 249.09 L 518.21 257.75 L 528.09 264.83 L 537.97 259.32 L 547.85 255.39 L 557.74 237.29 L 567.62 223.92 L 577.50 228.64 L 587.38 256.96 L 597.26 256.17 L 607.15 256.17 L 617.03 240.44 L 626.91 249.09 L 636.79 249.88 L 646.67 252.24 L 656.55 266.40 L 666.44 275.05 L 676.32 157.84 L 686.20 97.27 L 696.08 135.03 L 705.96 160.99 L 715.84 128.73 L 725.73 140.53 L 735.61 200.32 L 745.49 184.59 L 755.37 96.48 L 765.25 178.29 L 775.13 231.79 L 785.02 248.31 L 794.90 258.53 L 804.78 258.53 L 814.66 248.31 L 824.54 241.23 L 834.42 278.99 L 844.31 290.00 L 854.19 227.85 L 864.07 249.09 L 873.95 258.53 L 883.83 240.44 L 893.72 234.15 L 903.60 238.08 L 913.48 260.11 L 923.36 232.57 L 933.24 255.39 L 943.12 273.48 L 953.01 262.47 L 962.89 263.25 L 972.77 258.53 L 982.65 259.32 L 992.53 256.96 L 1002.41 218.41 L 1012.30 256.17 L 1022.18 249.88 L 1032.06 290.00" fill="none" stroke="#666666" stroke-width="1" stroke-linejoin="round" stroke-linecap="round"/>
</g><g>
<path d="M 122 254 L 126 262 L 118 262 Z" fill="#fb9a4e"/>
<path d="M 132 251 L 136 259 L 128 259 Z" fill="#fb9a4e"/>
<path d="M 142 277 L 146 285 L 138 285 Z" fill="#fb9a4e"/>
<path d="M 152 270 L 156 278 L 148 278 Z" fill="#fb9a4e"/>
<path d="M 162 262 L 166 270 L 158 270 Z" fill="#fb9a4e"/>
<path d="M 172 246 L 176 254 L 168 254 Z" fill="#fb9a4e"/>
<path d="M 182 259 L 186 267 L 178 267 Z" fill="#fb9a4e"/>
<path d="M 192 258 L 196 266 L 188 266 Z" fill="#fb9a4e"/>
<path d="M 201 258 L 205 266 L 197 266 Z" fill="#fb9a4e"/>
<path d="M 211 262 L 215 270 L 207 270 Z" fill="#fb9a4e"/>
<path d="M 221 246 L 225 254 L 217 254 Z" fill="#fb9a4e"/>
<path d="M 231 229 L 235 237 L 227 237 Z" fill="#fb9a4e"/>
<path d="M 241 233 L 245 241 L 237 241 Z" fill="#fb9a4e"/>
<path d="M 251 231 L 255 239 L 247 239 Z" fill="#fb9a4e"/>
<path d="M 261 224 L 265 232 L 257 232 Z" fill="#fb9a4e"/>
<path d="M 271 220 L 275 228 L 267 228 Z" fill="#fb9a4e"/>
<path d="M 281 238 L 285 246 L 277 246 Z" fill="#fb9a4e"/>
<path d="M 290 241 L 294 249 L 286 249 Z" fill="#fb9a4e"/>
<path d="M 300 209 L 304 217 L 296 217 Z" fill="#fb9a4e"/>
<path d="M 310 247 L 314 255 L 306 255 Z" fill="#fb9a4e"/>
<path d="M 320 241 L 324 249 L 316 249 Z" fill="#fb9a4e"/>
<path d="M 330 232 L 334 240 L 326 240 Z" fill="#fb9a4e"/>
<path d="M 340 273 L 344 281 L 336 281 Z" fill="#fb9a4e"/>
<path d="M 350 262 L 354 270 L 346 270 Z" fill="#fb9a4e"/>
<path d="M 360 258 L 364 266 L 356 266 Z" fill="#fb9a4e"/>
<path d="M 369 225 L 373 233 L 365 233 Z" fill="#fb9a4e"/>
<path d="M 379 224 L 383 232 L 375 232 Z" fill="#fb9a4e"/>
<path d="M 389 213 L 393 221 L 385 221 Z" fill="#fb9a4e"/>
<path d="M 399 199 L 403 207 L 395 207 Z" fill="#fb9a4e"/>
<path d="M 409 210 L 413 218 L 405 218 Z" fill="#fb9a4e"/>
<path d="M 419 227 L 423 235 L 415 235 Z" fill="#fb9a4e"/>
<path d="M 429 221 L 433 229 L 425 229 Z" fill="#fb9a4e"/>
<path d="M 439 244 L 443 252 L 435 252 Z" fill="#fb9a4e"/>
<path d="M 449 233 L 453 241 L 445 241 Z" fill="#fb9a4e"/>
<path d="M 458 248 L 462 256 L 454 256 Z" fill="#fb9a4e"/>
<path d="M 468 183 L 472 191 L 464 191 Z" fill="#fb9a4e"/>
<path d="M 478 192 L 482 200 L 474 200 Z" fill="#fb9a4e"/>
<path d="M 488 208 L 492 216 L 484 216 Z" fill="#fb9a4e"/>
<path d="M 498 207 L 502 215 L 494 215 Z" fill="#fb9a4e"/>
<path d="M 508 245 L 512 253 L 504 253 Z" fill="#fb9a4e"/>
<path d="M 518 254 L 522 262 L 514 262 Z" fill="#fb9a4e"/>
<path d="M 528 261 L 532 269 L 524 269 Z" fill="#fb9a4e"/>
<path d="M 537 255 L 541 263 L 533 263 Z" fill="#fb9a4e"/>
<path d="M 547 251 L 551 259 L 543 259 Z" fill="#fb9a4e"/>
<path d="M 557 233 L 561 241 L 553 241 Z" fill="#fb9a4e"/>
<path d="M 567 220 L 571 228 L 563 228 Z" fill="#fb9a4e"/>
<path d="M 577 225 L 581 233 L 573 233 Z" fill="#fb9a4e"/>
<path d="M 587 253 L 591 261 L 583 261 Z" fill="#fb9a4e"/>
<path d="M 597 252 L 601 260 L 593 260 Z" fill="#fb9a4e"/>
<path d="M 607 252 L 611 260 L 603 260 Z" fill="#fb9a4e"/>
<path d="M 617 236 L 621 244 L 613 244 Z" fill="#fb9a4e"/>
<path d="M 626 245 L 630 253 L 622 253 Z" fill="#fb9a4e"/>
<path d="M 636 246 L 640 254 L 632 254 Z" fill="#fb9a4e"/>
<path d="M 646 248 L 650 256 L 642 256 Z" fill="#fb9a4e"/>
<path d="M 656 262 L 660 270 L 652 270 Z" fill="#fb9a4e"/>
<path d="M 666 271 L 670 279 L 662 279 Z" fill="#fb9a4e"/>
<path d="M 676 154 L 680 162 L 672 162 Z" fill="#fb9a4e"/>
<path d="M 686 93 L 690 101 L 682 101 Z" fill="#fb9a4e"/>
<path d="M 696 131 L 700 139 L 692 139 Z" fill="#fb9a4e"/>
<path d="M 705 157 L 709 165 L 701 165 Z" fill="#fb9a4e"/>
<path d="M 715 125 L 719 133 L 711 133 Z" fill="#fb9a4e"/>
<path d="M 725 137 L 729 145 L 721 145 Z" fill="#fb9a4e"/>
<path d="M 735 196 L 739 204 L 731 204 Z" fill="#fb9a4e"/>
<path d="M 745 181 L 749 189 L 741 189 Z" fill="#fb9a4e"/>
<path d="M 755 92 L 759 100 L 751 100 Z" fill="#fb9a4e"/>
<path d="M 765 174 L 769 182 L 761 182 Z" fill="#fb9a4e"/>
<path d="M 775 228 L 779 236 L 771 236 Z" fill="#fb9a4e"/>
<path d="M 785 244 L 789 252 L 781 252 Z" fill="#fb9a4e"/>
<path d="M 794 255 L 798 263 L 790 263 Z" fill="#fb9a4e"/>
<path d="M 804 255 L 808 263 L 800 263 Z" fill="#fb9a4e"/>
<path d="M 814 244 L 818 252 L 810 252 Z" fill="#fb9a4e"/>
<path d="M 824 237 L 828 245 L 820 245 Z" fill="#fb9a4e"/>
<path d="M 834 275 L 838 283 L 830 283 Z" fill="#fb9a4e"/>
<path d="M 844 286 L 848 294 L 840 294 Z" fill="#fb9a4e"/>
<path d="M 854 224 L 858 232 L 850 232 Z" fill="#fb9a4e"/>
<path d="M 864 245 L 868 253 L 860 253 Z" fill="#fb9a4e"/>
<path d="M 873 255 L 877 263 L 869 263 Z" fill="#fb9a4e"/>
<path d="M 883 236 L 887 244 L 879 244 Z" fill="#fb9a4e"/>
<path d="M 893 230 L 897 238 L 889 238 Z" fill="#fb9a4e"/>
<path d="M 903 234 L 907 242 L 899 242 Z" fill="#fb9a4e"/>
<path d="M 913 256 L 917 264 L 909 264 Z" fill="#fb9a4e"/>
<path d="M 923 229 L 927 237 L 919 237 Z" fill="#fb9a4e"/>
<path d="M 933 251 L 937 259 L 929 259 Z" fill="#fb9a4e"/>
<path d="M 943 269 L 947 277 L 939 277 Z" fill="#fb9a4e"/>
<path d="M 953 258 L 957 266 L 949 266 Z" fill="#fb9a4e"/>
<path d="M 962 259 L 966 267 L 958 267 Z" fill="#fb9a4e"/>
<path d="M 972 255 L 976 263 L 968 263 Z" fill="#fb9a4e"/>
<path d="M 982 255 L 986 263 L 978 263 Z" fill="#fb9a4e"/>
<path d="M 992 253 L 996 261 L 988 261 Z" fill="#fb9a4e"/>
<path d="M 1002 214 L 1006 222 L 998 222 Z" fill="#fb9a4e"/>
<path d="M 1012 252 L 1016 260 L 1008 260 Z" fill="#fb9a4e"/>
<path d="M 1022 246 L 1026 254 L 1018 254 Z" fill="#fb9a4e"/>
<path d="M 1032 286 L 1036 294 L 1028 294 Z" fill="#fb9a4e"/>
</g>
<g>
<path d="M 122.94 257.75 L 132.82 255.39 L 142.70 281.35 L 152.59 274.27 L 162.47 266.40 L 172.35 249.88 L 182.23 263.25 L 192.11 261.68 L 201.99 261.68 L 211.88 265.61 L 221.76 249.88 L 231.64 232.57 L 241.52 236.51 L 251.40 234.93 L 261.28 227.85 L 271.17 223.92 L 281.05 242.01 L 290.93 245.16 L 300.81 212.91 L 310.69 250.67 L 320.58 245.16 L 330.46 235.72 L 340.34 277.41 L 350.22 265.61 L 360.10 262.47 L 369.98 229.43 L 379.87 227.85 L 389.75 216.84 L 399.63 202.68 L 409.51 214.48 L 419.39 231.00 L 429.27 225.49 L 439.16 247.52 L 449.04 237.29 L 458.92 252.24 L 468.80 186.95 L 478.68 195.60 L 488.56 212.12 L 498.45 210.55 L 508.33 249.09 L 518.21 257.75 L 528.09 264.83 L 537.97 259.32 L 547.85 255.39 L 557.74 237.29 L 567.62 223.92 L 577.50 228.64 L 587.38 256.96 L 597.26 256.17 L 607.15 256.17 L 617.03 240.44 L 626.91 249.09 L 636.79 249.88 L 646.67 252.24 L 656.55 266.40 L 666.44 275.05 L 676.32 157.84 L 686.20 97.27 L 696.08 135.03 L 705.96 160.99 L 715.84 128.73 L 725.73 140.53 L 735.61 200.32 L 745.49 184.59 L 755.37 96.48 L 765.25 179.08 L 775.13 231.79 L 785.02 248.31 L 794.90 258.53 L 804.78 258.53 L 814.66 248.31 L 824.54 241.23 L 834.42 278.99 L 844.31 290.00 L 854.19 227.85 L 864.07 249.09 L 873.95 258.53 L 883.83 240.44 L 893.72 234.15 L 903.60 238.08 L 913.48 260.11 L 923.36 232.57 L 933.24 255.39 L 943.12 273.48 L 953.01 262.47 L 962.89 263.25 L 972.77 258.53 L 982.65 259.32 L 992.53 256.96 L 1002.41 218.41 L 1012.30 256.17 L 1022.18 249.88 L 1032.06 290.00 L 1032.06 290.00 L 1022.18 249.88 L 1012.30 256.17 L 1002.41 219.20 L 992.53 259.32 L 982.65 262.47 L 972.77 260.89 L 962.89 264.04 L 953.01 264.83 L 943.12 275.84 L 933.24 258.53 L 923.36 232.57 L 913.48 260.89 L 903.60 238.87 L 893.72 237.29 L 883.83 245.16 L 873.95 261.68 L 864.07 253.81 L 854.19 232.57 L 844.31 290.00 L 834.42 278.99 L 824.54 245.16 L 814.66 248.31 L 804.78 260.11 L 794.90 259.32 L 785.02 249.88 L 775.13 231.79 L 765.25 192.45 L 755.37 192.45 L 745.49 186.16 L 735.61 201.11 L 725.73 146.83 L 715.84 131.88 L 705.96 164.13 L 696.08 140.53 L 686.20 142.11 L 676.32 216.84 L 666.44 275.84 L 656.55 269.55 L 646.67 258.53 L 636.79 255.39 L 626.91 250.67 L 617.03 242.01 L 607.15 258.53 L 597.26 262.47 L 587.38 257.75 L 577.50 228.64 L 567.62 225.49 L 557.74 242.01 L 547.85 257.75 L 537.97 260.11 L 528.09 265.61 L 518.21 260.89 L 508.33 249.88 L 498.45 216.05 L 488.56 212.91 L 478.68 196.39 L 468.80 226.28 L 458.92 253.03 L 449.04 237.29 L 439.16 248.31 L 429.27 228.64 L 419.39 234.15 L 409.51 217.63 L 399.63 238.87 L 389.75 245.16 L 379.87 245.95 L 369.98 234.93 L 360.10 262.47 L 350.22 267.19 L 340.34 277.41 L 330.46 246.73 L 320.58 253.03 L 310.69 260.11 L 300.81 216.05 L 290.93 246.73 L 281.05 242.80 L 271.17 223.92 L 261.28 227.85 L 251.40 236.51 L 241.52 237.29 L 231.64 234.15 L 221.76 249.88 L 211.88 265.61 L 201.99 262.47 L 192.11 264.04 L 182.23 264.83 L 172.35 252.24 L 162.47 266.40 L 152.59 274.27 L 142.70 281.35 L 132.82 256.96 L 122.94 258.53 Z" fill="#8578e8" fill-opacity="0.75" stroke="none"/>
<path d="M 122.94 257.75 L 132.82 255.39 L 142.70 281.35 L 152.59 274.27 L 162.47 266.40 L 172.35 249.88 L 182.23 263.25 L 192.11 261.68 L 201.99 261.68 L 211.88 265.61 L 221.76 249.88 L 231.64 232.57 L 241.52 236.51 L 251.40 234.93 L 261.28 227.85 L 271.17 223.92 L 281.05 242.01 L 290.93 245.16 L 300.81 212.91 L 310.69 250.67 L 320.58 245.16 L 330.46 235.72 L 340.34 277.41 L 350.22 265.61 L 360.10 262.47 L 369.98 229.43 L 379.87 227.85 L 389.75 216.84 L 399.63 202.68 L 409.51 214.48 L 419.39 231.00 L 429.27 225.49 L 439.16 247.52 L 449.04 237.29 L 458.92 252.24 L 468.80 186.95 L 478.68 195.60 L 488.56 212.12 L 498.45 210.55 L 508.33 249.09 L 518.21 257.75 L 528.09 264.83 L 537.97 259.32 L 547.85 255.39 L 557.74 237.29 L 567.62 223.92 L 577.50 228.64 L 587.38 256.96 L 597.26 256.17 L 607.15 256.17 L 617.03 240.44 L 626.91 249.09 L 636.79 249.88 L 646.67 252.24 L 656.55 266.40 L 666.44 275.05 L 676.32 157.84 L 686.20 97.27 L 696.08 135.03 L 705.96 160.99 L 715.84 128.73 L 725.73 140.53 L 735.61 200.32 L 745.49 184.59 L 755.37 96.48 L 765.25 179.08 L 775.13 231.79 L 785.02 248.31 L 794.90 258.53 L 804.78 258.53 L 814.66 248.31 L 824.54 241.23 L 834.42 278.99 L 844.31 290.00 L 854.19 227.85 L 864.07 249.09 L 873.95 258.53 L 883.83 240.44 L 893.72 234.15 L 903.60 238.08 L 913.48 260.11 L 923.36 232.57 L 933.24 255.39 L 943.12 273.48 L 953.01 262.47 L 962.89 263.25 L 972.77 258.53 L 982.65 259.32 L 992.53 256.96 L 1002.41 218.41 L 1012.30 256.17 L 1022.18 249.88 L 1032.06 290.00" fill="none" stroke="#666666" stroke-width="1" stroke-linejoin="round" stroke-linecap="round"/>
</g><g>
<path d="M 118 254 L 126 254 L 122 262 Z" fill="#8578e8"/>
<path d="M 128 251 L 136 251 L 132 259 Z" fill="#8578e8"/>
<path d="M 138 277 L 146 277 L 142 285 Z" fill="#8578e8"/>
<path d="M 148 270 L 156 270 L 152 278 Z" fill="#8578e8"/>
<path d="M 158 262 L 166 262 L 162 270 Z" fill="#8578e8"/>
<path d="M 168 246 L 176 246 L 172 254 Z" fill="#8578e8"/>
<path d="M 178 259 L 186 259 L 182 267 Z" fill="#8578e8"/>
<path d="M 188 258 L 196 258 L 192 266 Z" fill="#8578e8"/>
<path d="M 197 258 L 205 258 L 201 266 Z" fill="#8578e8"/>
<path d="M 207 262 L 215 262 L 211 270 Z" fill="#8578e8"/>
<path d="M 217 246 L 225 246 L 221 254 Z" fill="#8578e8"/>
<path d="M 227 229 L 235 229 L 231 237 Z" fill="#8578e8"/>
<path d="M 237 233 L 245 233 L 241 241 Z" fill="#8578e8"/>
<path d="M 247 231 L 255 231 L 251 239 Z" fill="#8578e8"/>
<path d="M 257 224 L 265 224 L 261 232 Z" fill="#8578e8"/>
<path d="M 267 220 L 275 220 L 271 228 Z" fill="#8578e8"/>
<path d="M 277 238 L 285 238 L 281 246 Z" fill="#8578e8"/>
<path d="M 286 241 L 294 241 L 290 249 Z" fill="#8578e8"/>
<path d="M 296 209 L 304 209 L 300 217 Z" fill="#8578e8"/>
<path d="M 306 247 L 314 247 L 310 255 Z" fill="#8578e8"/>
<path d="M 316 241 L 324 241 L 320 249 Z" fill="#8578e8"/>
<path d="M 326 232 L 334 232 L 330 240 Z" fill="#8578e8"/>
<path d="M 336 273 L 344 273 L 340 281 Z" fill="#8578e8"/>
<path d="M 346 262 L 354 262 L 350 270 Z" fill="#8578e8"/>
<path d="M 356 258 L 364 258 L 360 266 Z" fill="#8578e8"/>
<path d="M 365 225 L 373 225 L 369 233 Z" fill="#8578e8"/>
<path d="M 375 224 L 383 224 L 379 232 Z" fill="#8578e8"/>
<path d="M 385 213 L 393 213 L 389 221 Z" fill="#8578e8"/>
<path d="M 395 199 L 403 199 L 399 207 Z" fill="#8578e8"/>
<path d="M 405 210 L 413 210 L 409 218 Z" fill="#8578e8"/>
<path d="M 415 227 L 423 227 L 419 235 Z" fill="#8578e8"/>
<path d="M 425 221 L 433 221 L 429 229 Z" fill="#8578e8"/>
<path d="M 435 244 L 443 244 L 439 252 Z" fill="#8578e8"/>
<path d="M 445 233 L 453 233 L 449 241 Z" fill="#8578e8"/>
<path d="M 454 248 L 462 248 L 458 256 Z" fill="#8578e8"/>
<path d="M 464 183 L 472 183 L 468 191 Z" fill="#8578e8"/>
<path d="M 474 192 L 482 192 L 478 200 Z" fill="#8578e8"/>
<path d="M 484 208 L 492 208 L 488 216 Z" fill="#8578e8"/>
<path d="M 494 207 L 502 207 L 498 215 Z" fill="#8578e8"/>
<path d="M 504 245 L 512 245 L 508 253 Z" fill="#8578e8"/>
<path d="M 514 254 L 522 254 L 518 262 Z" fill="#8578e8"/>
<path d="M 524 261 L 532 261 L 528 269 Z" fill="#8578e8"/>
<path d="M 533 255 L 541 255 L 537 263 Z" fill="#8578e8"/>
<path d="M 543 251 L 551 251 L 547 259 Z" fill="#8578e8"/>
<path d="M 553 233 L 561 233 L 557 241 Z" fill="#8578e8"/>
<path d="M 563 220 L 571 220 L 567 228 Z" fill="#8578e8"/>
<path d="M 573 225 L 581 225 L 577 233 Z" fill="#8578e8"/>
<path d="M 583 253 L 591 253 L 587 261 Z" fill="#8578e8"/>
<path d="M 593 252 L 601 252 L 597 260 Z" fill="#8578e8"/>
<path d="M 603 252 L 611 252 L 607 260 Z" fill="#8578e8"/>
<path d="M 613 236 L 621 236 L 617 244 Z" fill="#8578e8"/>
<path d="M 622 245 L 630 245 L 626 253 Z" fill="#8578e8"/>
<path d="M 632 246 L 640 246 L 636 254 Z" fill="#8578e8"/>
<path d="M 642 248 L 650 248 L 646 256 Z" fill="#8578e8"/>
<path d="M 652 262 L 660 262 L 656 270 Z" fill="#8578e8"/>
<path d="M 662 271 L 670 271 L 666 279 Z" fill="#8578e8"/>
<path d="M 672 154 L 680 154 L 676 162 Z" fill="#8578e8"/>
<path d="M 682 93 L 690 93 L 686 101 Z" fill="#8578e8"/>
<path d="M 692 131 L 700 131 L 696 139 Z" fill="#8578e8"/>
<path d="M 701 157 L 709 157 L 705 165 Z" fill="#8578e8"/>
<path d="M 711 125 L 719 125 L 715 133 Z" fill="#8578e8"/>
<path d="M 721 137 L 729 137 L 725 145 Z" fill="#8578e8"/>
<path d="M 731 196 L 739 196 L 735 204 Z" fill="#8578e8"/>
<path d="M 741 181 L 749 181 L 745 189 Z" fill="#8578e8"/>
<path d="M 751 92 L 759 92 L 755 100 Z" fill="#8578e8"/>
<path d="M 761 175 L 769 175 L 765 183 Z" fill="#8578e8"/>
<path d="M 771 228 L 779 228 L 775 236 Z" fill="#8578e8"/>
<path d="M 781 244 L 789 244 L 785 252 Z" fill="#8578e8"/>
<path d="M 790 255 L 798 255 L 794 263 Z" fill="#8578e8"/>
<path d="M 800 255 L 808 255 L 804 263 Z" fill="#8578e8"/>
<path d="M 810 244 L 818 244 L 814 252 Z" fill="#8578e8"/>
<path d="M 820 237 L 828 237 L 824 245 Z" fill="#8578e8"/>
<path d="M 830 275 L 838 275 L 834 283 Z" fill="#8578e8"/>
<path d="M 840 286 L 848 286 L 844 294 Z" fill="#8578e8"/>
<path d="M 850 224 L 858 224 L 854 232 Z" fill="#8578e8"/>
<path d="M 860 245 L 868 245 L 864 253 Z" fill="#8578e8"/>
<path d="M 869 255 L 877 255 L 873 263 Z" fill="#8578e8"/>
<path d="M 879 236 L 887 236 L 883 244 Z" fill="#8578e8"/>
<path d="M 889 230 L 897 230 L 893 238 Z" fill="#8578e8"/>
<path d="M 899 234 L 907 234 L 903 242 Z" fill="#8578e8"/>
<path d="M 909 256 L 917 256 L 913 264 Z" fill="#8578e8"/>
<path d="M 919 229 L 927 229 L 923 237 Z" fill="#8578e8"/>
<path d="M 929 251 L 937 251 L 933 259 Z" fill="#8578e8"/>
<path d="M 939 269 L 947 269 L 943 277 Z" fill="#8578e8"/>
<path d="M 949 258 L 957 258 L 953 266 Z" fill="#8578e8"/>
<path d="M 958 259 L 966 259 L 962 267 Z" fill="#8578e8"/>
<path d="M 968 255 L 976 255 L 972 263 Z" fill="#8578e8"/>
<path d="M 978 255 L 986 255 L 982 263 Z" fill="#8578e8"/>
<path d="M 988 253 L 996 253 L 992 261 Z" fill="#8578e8"/>
<path d="M 998 214 L 1006 214 L 1002 222 Z" fill="#8578e8"/>
<path d="M 1008 252 L 1016 252 L 1012 260 Z" fill="#8578e8"/>
<path d="M 1018 246 L 1026 246 L 1022 254 Z" fill="#8578e8"/>
<path d="M 1028 286 L 1036 286 L 1032 294 Z" fill="#8578e8"/>
</g>
<g>
<path d="M 122.94 258.53 L 132.82 256.96 L 142.70 281.35 L 152.59 274.27 L 162.47 266.40 L 172.35 252.24 L 182.23 264.83 L 192.11 264.04 L 201.99 262.47 L 211.88 265.61 L 221.76 249.88 L 231.64 234.15 L 241.52 237.29 L 251.40 236.51 L 261.28 227.85 L 271.17 223.92 L 281.05 242.80 L 290.93 246.73 L 300.81 216.05 L 310.69 260.11 L 320.58 253.03 L 330.46 246.73 L 340.34 277.41 L 350.22 267.19 L 360.10 262.47 L 369.98 234.93 L 379.87 245.95 L 389.75 245.16 L 399.63 238.87 L 409.51 217.63 L 419.39 234.15 L 429.27 228.64 L 439.16 248.31 L 449.04 237.29 L 458.92 253.03 L 468.80 226.28 L 478.68 196.39 L 488.56 212.91 L 498.45 216.05 L 508.33 249.88 L 518.21 260.89 L 528.09 265.61 L 537.97 260.11 L 547.85 257.75 L 557.74 242.01 L 567.62 225.49 L 577.50 228.64 L 587.38 257.75 L 597.26 262.47 L 607.15 258.53 L 617.03 242.01 L 626.91 250.67 L 636.79 255.39 L 646.67 258.53 L 656.55 269.55 L 666.44 275.84 L 676.32 216.84 L 686.20 142.11 L 696.08 140.53 L 705.96 164.13 L 715.84 131.88 L 725.73 146.83 L 735.61 201.11 L 745.49 186.16 L 755.37 192.45 L 765.25 192.45 L 775.13 231.79 L 785.02 249.88 L 794.90 259.32 L 804.78 260.11 L 814.66 248.31 L 824.54 245.16 L 834.42 278.99 L 844.31 290.00 L 854.19 232.57 L 864.07 253.81 L 873.95 261.68 L 883.83 245.16 L 893.72 237.29 L 903.60 238.87 L 913.48 260.89 L 923.36 232.57 L 933.24 258.53 L 943.12 275.84 L 953.01 264.83 L 962.89 264.04 L 972.77 260.89 L 982.65 262.47 L 992.53 259.32 L 1002.41 219.20 L 1012.30 256.17 L 1022.18 249.88 L 1032.06 290.00 L 1032.06 290.00 L 1022.18 249.88 L 1012.30 256.17 L 1002.41 219.20 L 992.53 259.32 L 982.65 262.47 L 972.77 260.89 L 962.89 264.04 L 953.01 264.83 L 943.12 275.84 L 933.24 258.53 L 923.36 232.57 L 913.48 260.89 L 903.60 238.87 L 893.72 237.29 L 883.83 245.16 L 873.95 261.68 L 864.07 253.81 L 854.19 232.57 L 844.31 290.00 L 834.42 278.99 L 824.54 245.16 L 814.66 248.31 L 804.78 260.11 L 794.90 259.32 L 785.02 249.88 L 775.13 231.79 L 765.25 192.45 L 755.37 192.45 L 745.49 186.16 L 735.61 201.11 L 725.73 146.83 L 715.84 131.88 L 705.96 164.13 L 696.08 140.53 L 686.20 142.11 L 676.32 216.84 L 666.44 275.84 L 656.55 269.55 L 646.67 258.53 L 636.79 255.39 L 626.91 250.67 L 617.03 242.01 L 607.15 258.53 L 597.26 262.47 L 587.38 257.75 L 577.50 228.64 L 567.62 225.49 L 557.74 242.01 L 547.85 257.75 L 537.97 260.11 L 528.09 265.61 L 518.21 260.89 L 508.33 249.88 L 498.45 216.05 L 488.56 212.91 L 478.68 196.39 L 468.80 226.28 L 458.92 253.03 L 449.04 237.29 L 439.16 248.31 L 429.27 228.64 L 419.39 234.15 L 409.51 217.63 L 399.63 238.87 L 389.75 245.16 L 379.87 245.95 L 369.98 234.93 L 360.10 262.47 L 350.22 267.19 L 340.34 277.41 L 330.46 246.73 L 320.58 253.03 L 310.69 260.11 L 300.81 216.05 L 290.93 246.73 L 281.05 242.80 L 271.17 223.92 L 261.28 227.85 L 251.40 236.51 L 241.52 237.29 L 231.64 234.15 L 221.76 249.88 L 211.88 265.61 L 201.99 262.47 L 192.11 264.04 L 182.23 264.83 L 172.35 252.24 L 162.47 266.40 L 152.59 274.27 L 142.70 281.35 L 132.82 256.96 L 122.94 258.53 Z" fill="#f8367a" fill-opacity="0.75" stroke="none"/>
<path d="M 122.94 258.53 L 132.82 256.96 L 142.70 281.35 L 152.59 274.27 L 162.47 266.40 L 172.35 252.24 L 182.23 264.83 L 192.11 264.04 L 201.99 262.47 L 211.88 265.61 L 221.76 249.88 L 231.64 234.15 L 241.52 237.29 L 251.40 236.51 L 261.28 227.85 L 271.17 223.92 L 281.05 242.80 L 290.93 246.73 L 300.81 216.05 L 310.69 260.11 L 320.58 253.03 L 330.46 246.73 L 340.34 277.41 L 350.22 267.19 L 360.10 262.47 L 369.98 234.93 L 379.87 245.95 L 389.75 245.16 L 399.63 238.87 L 409.51 217.63 L 419.39 234.15 L 429.27 228.64 L 439.16 248.31 L 449.04 237.29 L 458.92 253.03 L 468.80 226.28 L 478.68 196.39 L 488.56 212.91 L 498.45 216.05 L 508.33 249.88 L 518.21 260.89 L 528.09 265.61 L 537.97 260.11 L 547.85 257.75 L 557.74 242.01 L 567.62 225.49 L 577.50 228.64 L 587.38 257.75 L 597.26 262.47 L 607.15 258.53 L 617.03 242.01 L 626.91 250.67 L 636.79 255.39 L 646.67 258.53 L 656.55 269.55 L 666.44 275.84 L 676.32 216.84 L 686.20 142.11 L 696.08 140.53 L 705.96 164.13 L 715.84 131.88 L 725.73 146.83 L 735.61 201.11 L 745.49 186.16 L 755.37 192.45 L 765.25 192.45 L 775.13 231.79 L 785.02 249.88 L 794.90 259.32 L 804.78 260.11 L 814.66 248.31 L 824.54 245.16 L 834.42 278.99 L 844.31 290.00 L 854.19 232.57 L 864.07 253.81 L 873.95 261.68 L 883.83 245.16 L 893.72 237.29 L 903.60 238.87 L 913.48 260.89 L 923.36 232.57 L 933.24 258.53 L 943.12 275.84 L 953.01 264.83 L 962.89 264.04 L 972.77 260.89 L 982.65 262.47 L 992.53 259.32 L 1002.41 219.20 L 1012.30 256.17 L 1022.18 249.88 L 1032.06 290.00" fill="none" stroke="#666666" stroke-width="1" stroke-linejoin="round" stroke-linecap="round"/>
</g><g>
<circle cx="122" cy="259" r="4" fill="#f8367a"/>
<circle cx="132" cy="257" r="4" fill="#f8367a"/>
<circle cx="142" cy="281" r="4" fill="#f8367a"/>
<circle cx="152" cy="274" r="4" fill="#f8367a"/>
<circle cx="162" cy="266" r="4" fill="#f8367a"/>
<circle cx="172" cy="252" r="4" fill="#f8367a"/>
<circle cx="182" cy="265" r="4" fill="#f8367a"/>
<circle cx="192" cy="264" r="4" fill="#f8367a"/>
<circle cx="201" cy="262" r="4" fill="#f8367a"/>
<circle cx="211" cy="266" r="4" fill="#f8367a"/>
<circle cx="221" cy="250" r="4" fill="#f8367a"/>
<circle cx="231" cy="234" r="4" fill="#f8367a"/>
<circle cx="241" cy="237" r="4" fill="#f8367a"/>
<circle cx="251" cy="237" r="4" fill="#f8367a"/>
<circle cx="261" cy="228" r="4" fill="#f8367a"/>
<circle cx="271" cy="224" r="4" fill="#f8367a"/>
<circle cx="281" cy="243" r="4" fill="#f8367a"/>
<circle cx="290" cy="247" r="4" fill="#f8367a"/>
<circle cx="300" cy="216" r="4" fill="#f8367a"/>
<circle cx="310" cy="260" r="4" fill="#f8367a"/>
<circle cx="320" cy="253" r="4" fill="#f8367a"/>
<circle cx="330" cy="247" r="4" fill="#f8367a"/>
<circle cx="340" cy="277" r="4" fill="#f8367a"/>
<circle cx="350" cy="267" r="4" fill="#f8367a"/>
<circle cx="360" cy="262" r="4" fill="#f8367a"/>
<circle cx="369" cy="235" r="4" fill="#f8367a"/>
<circle cx="379" cy="246" r="4" fill="#f8367a"/>
<circle cx="389" cy="245" r="4" fill="#f8367a"/>
<circle cx="399" cy="239" r="4" fill="#f8367a"/>
<circle cx="409" cy="218" r="4" fill="#f8367a"/>
<circle cx="419" cy="234" r="4" fill="#f8367a"/>
<circle cx="429" cy="229" r="4" fill="#f8367a"/>
<circle cx="439" cy="248" r="4" fill="#f8367a"/>
<circle cx="449" cy="237" r="4" fill="#f8367a"/>
<circle cx="458" cy="253" r="4" fill="#f8367a"/>
<circle cx="468" cy="226" r="4" fill="#f8367a"/>
<circle cx="478" cy="196" r="4" fill="#f8367a"/>
<circle cx="488" cy="213" r="4" fill="#f8367a"/>
<circle cx="498" cy="216" r="4" fill="#f8367a"/>
<circle cx="508" cy="250" r="4" fill="#f8367a"/>
<circle cx="518" cy="261" r="4" fill="#f8367a"/>
<circle cx="528" cy="266" r="4" fill="#f8367a"/>
<circle cx="537" cy="260" r="4" fill="#f8367a"/>
<circle cx="547" cy="258" r="4" fill="#f8367a"/>
<circle cx="557" cy="242" r="4" fill="#f8367a"/>
<circle cx="567" cy="225" r="4" fill="#f8367a"/>
<circle cx="577" cy="229" r="4" fill="#f8367a"/>
<circle cx="587" cy="258" r="4" fill="#f8367a"/>
<circle cx="597" cy="262" r="4" fill="#f8367a"/>
<circle cx="607" cy="259" r="4" fill="#f8367a"/>
<circle cx="617" cy="242" r="4" fill="#f8367a"/>
<circle cx="626" cy="251" r="4" fill="#f8367a"/>
<circle cx="636" cy="255" r="4" fill="#f8367a"/>
<circle cx="646" cy="259" r="4" fill="#f8367a"/>
<circle cx="656" cy="270" r="4" fill="#f8367a"/>
<circle cx="666" cy="276" r="4" fill="#f8367a"/>
<circle cx="676" cy="217" r="4" fill="#f8367a"/>
<circle cx="686" cy="142" r="4" fill="#f8367a"/>
<circle cx="696" cy="141" r="4" fill="#f8367a"/>
<circle cx="705" cy="164" r="4" fill="#f8367a"/>
<circle cx="715" cy="132" r="4" fill="#f8367a"/>
<circle cx="725" cy="147" r="4" fill="#f8367a"/>
<circle cx="735" cy="201" r="4" fill="#f8367a"/>
<circle cx="745" cy="186" r="4" fill="#f8367a"/>
<circle cx="755" cy="192" r="4" fill="#f8367a"/>
<circle cx="765" cy="192" r="4" fill="#f8367a"/>
<circle cx="775" cy="232" r="4" fill="#f8367a"/>
<circle cx="785" cy="250" r="4" fill="#f8367a"/>
<circle cx="794" cy="259" r="4" fill="#f8367a"/>
<circle cx="804" cy="260" r="4" fill="#f8367a"/>
<circle cx="814" cy="248" r="4" fill="#f8367a"/>
<circle cx="824" cy="245" r="4" fill="#f8367a"/>
<circle cx="834" cy="279" r="4" fill="#f8367a"/>
<circle cx="844" cy="290" r="4" fill="#f8367a"/>
<circle cx="854" cy="233" r="4" fill="#f8367a"/>
<circle cx="864" cy="254" r="4" fill="#f8367a"/>
<circle cx="873" cy="262" r="4" fill="#f8367a"/>
<circle cx="883" cy="245" r="4" fill="#f8367a"/>
<circle cx="893" cy="237" r="4" fill="#f8367a"/>
<circle cx="903" cy="239" r="4" fill="#f8367a"/>
<circle cx="913" cy="261" r="4" fill="#f8367a"/>
<circle cx="923" cy="233" r="4" fill="#f8367a"/>
<circle cx="933" cy="259" r="4" fill="#f8367a"/>
<circle cx="943" cy="276" r="4" fill="#f8367a"/>
<circle cx="953" cy="265" r="4" fill="#f8367a"/>
<circle cx="962" cy="264" r="4" fill="#f8367a"/>
<circle cx="972" cy="261" r="4" fill="#f8367a"/>
<circle cx="982" cy="262" r="4" fill="#f8367a"/>
<circle cx="992" cy="259" r="4" fill="#f8367a"/>
<circle cx="1002" cy="219" r="4" fill="#f8367a"/>
<circle cx="1012" cy="256" r="4" fill="#f8367a"/>
<circle cx="1022" cy="250" r="4" fill="#f8367a"/>
<circle cx="1032" cy="290" r="4" fill="#f8367a"/>
</g>
<g>
<path d="M 122.94 258.53 L 132.82 256.96 L 142.70 281.35 L 152.59 274.27 L 162.47 266.40 L 172.35 252.24 L 182.23 264.83 L 192.11 264.04 L 201.99 262.47 L 211.88 265.61 L 221.76 249.88 L 231.64 234.15 L 241.52 237.29 L 251.40 236.51 L 261.28 227.85 L 271.17 223.92 L 281.05 242.80 L 290.93 246.73 L 300.81 216.05 L 310.69 260.11 L 320.58 253.03 L 330.46 246.73 L 340.34 277.41 L 350.22 267.19 L 360.10 262.47 L 369.98 234.93 L 379.87 245.95 L 389.75 245.16 L 399.63 238.87 L 409.51 217.63 L 419.39 234.15 L 429.27 228.64 L 439.16 248.31 L 449.04 237.29 L 458.92 253.03 L 468.80 226.28 L 478.68 196.39 L 488.56 212.91 L 498.45 216.05 L 508.33 249.88 L 518.21 260.89 L 528.09 265.61 L 537.97 260.11 L 547.85 257.75 L 557.74 242.01 L 567.62 225.49 L 577.50 228.64 L 587.38 257.75 L 597.26 262.47 L 607.15 258.53 L 617.03 242.01 L 626.91 250.67 L 636.79 255.39 L 646.67 258.53 L 656.55 269.55 L 666.44 275.84 L 676.32 216.84 L 686.20 142.11 L 696.08 140.53 L 705.96 164.13 L 715.84 131.88 L 725.73 146.83 L 735.61 201.11 L 745.49 186.16 L 755.37 192.45 L 765.25 192.45 L 775.13 231.79 L 785.02 249.88 L 794.90 259.32 L 804.78 260.11 L 814.66 248.31 L 824.54 245.16 L 834.42 278.99 L 844.31 290.00 L 854.19 232.57 L 864.07 253.81 L 873.95 261.68 L 883.83 245.16 L 893.72 237.29 L 903.60 238.87 L 913.48 260.89 L 923.36 232.57 L 933.24 258.53 L 943.12 275.84 L 953.01 264.83 L 962.89 264.04 L 972.77 260.89 L 982.65 262.47 L 992.53 259.32 L 1002.41 219.20 L 1012.30 256.17 L 1022.18 249.88 L 1032.06 290.00 L 1032.06 290.00 L 1022.18 249.88 L 1012.30 256.17 L 1002.41 219.20 L 992.53 259.32 L 982.65 262.47 L 972.77 260.89 L 962.89 264.04 L 953.01 264.83 L 943.12 275.84 L 933.24 258.53 L 923.36 232.57 L 913.48 260.89 L 903.60 238.87 L 893.72 237.29 L 883.83 245.16 L 873.95 261.68 L 864.07 253.81 L 854.19 232.57 L 844.31 290.00 L 834.42 278.99 L 824.54 245.16 L 814.66 248.31 L 804.78 260.11 L 794.90 259.32 L 785.02 249.88 L 775.13 231.79 L 765.25 192.45 L 755.37 192.45 L 745.49 186.16 L 735.61 201.11 L 725.73 146.83 L 715.84 131.88 L 705.96 164.13 L 696.08 140.53 L 686.20 142.11 L 676.32 216.84 L 666.44 275.84 L 656.55 269.55 L 646.67 258.53 L 636.79 255.39 L 626.91 250.67 L 617.03 242.01 L 607.15 258.53 L 597.26 262.47 L 587.38 257.75 L 577.50 228.64 L 567.62 225.49 L 557.74 242.01 L 547.85 257.75 L 537.97 260.11 L 528.09 265.61 L 518.21 260.89 L 508.33 249.88 L 498.45 216.05 L 488.56 212.91 L 478.68 196.39 L 468.80 226.28 L 458.92 253.03 L 449.04 237.29 L 439.16 248.31 L 429.27 228.64 L 419.39 234.15 L 409.51 217.63 L 399.63 238.87 L 389.75 245.16 L 379.87 245.95 L 369.98 234.93 L 360.10 262.47 L 350.22 267.19 L 340.34 277.41 L 330.46 246.73 L 320.58 253.03 L 310.69 260.11 L 300.81 216.05 L 290.93 246.73 L 281.05 242.80 L 271.17 223.92 L 261.28 227.85 L 251.40 236.51 L 241.52 237.29 L 231.64 234.15 L 221.76 249.88 L 211.88 265.61 L 201.99 262.47 L 192.11 264.04 L 182.23 264.83 L 172.35 252.24 L 162.47 266.40 L 152.59 274.27 L 142.70 281.35 L 132.82 256.96 L 122.94 258.53 Z" fill="#e6d83f" fill-opacity="0.75" stroke="none"/>
<path d="M 122.94 258.53 L 132.82 256.96 L 142.70 281.35 L 152.59 274.27 L 162.47 266.40 L 172.35 252.24 L 182.23 264.83 L 192.11 264.04 L 201.99 262.47 L 211.88 265.61 L 221.76 249.88 L 231.64 234.15 L 241.52 237.29 L 251.40 236.51 L 261.28 227.85 L 271.17 223.92 L 281.05 242.80 L 290.93 246.73 L 300.81 216.05 L 310.69 260.11 L 320.58 253.03 L 330.46 246.73 L 340.34 277.41 L 350.22 267.19 L 360.10 262.47 L 369.98 234.93 L 379.87 245.95 L 389.75 245.16 L 399.63 238.87 L 409.51 217.63 L 419.39 234.15 L 429.27 228.64 L 439.16 248.31 L 449.04 237.29 L 458.92 253.03 L 468.80 226.28 L 478.68 196.39 L 488.56 212.91 L 498.45 216.05 L 508.33 249.88 L 518.21 260.89 L 528.09 265.61 L 537.97 260.11 L 547.85 257.75 L 557.74 242.01 L 567.62 225.49 L 577.50 228.64 L 587.38 257.75 L 597.26 262.47 L 607.15 258.53 L 617.03 242.01 L 626.91 250.67 L 636.79 255.39 L 646.67 258.53 L 656.55 269.55 L 666.44 275.84 L 676.32 216.84 L 686.20 142.11 L 696.08 140.53 L 705.96 164.13 L 715.84 131.88 L 725.73 146.83 L 735.61 201.11 L 745.49 186.16 L 755.37 192.45 L 765.25 192.45 L 775.13 231.79 L 785.02 249.88 L 794.90 259.32 L 804.78 260.11 L 814.66 248.31 L 824.54 245.16 L 834.42 278.99 L 844.31 290.00 L 854.19 232.57 L 864.07 253.81 L 873.95 261.68 L 883.83 245.16 L 893.72 237.29 L 903.60 238.87 L 913.48 260.89 L 923.36 232.57 L 933.24 258.53 L 943.12 275.84 L 953.01 264.83 L 962.89 264.04 L 972.77 260.89 L 982.65 262.47 L 992.53 259.32 L 1002.41 219.20 L 1012.30 256.17 L 1022.18 249.88 L 1032.06 290.00" fill="none" stroke="#666666" stroke-width="1" stroke-linejoin="round" stroke-linecap="round"/>
</g><g>
<path d="M 122 255 L 126 259 L 122 263 L 118 259 Z" fill="#e6d83f"/>
<path d="M 132 253 L 136 257 L 132 261 L 128 257 Z" fill="#e6d83f"/>
<path d="M 142 277 L 146 281 L 142 285 L 138 281 Z" fill="#e6d83f"/>
<path d="M 152 270 L 156 274 L 152 278 L 148 274 Z" fill="#e6d83f"/>
<path d="M 162 262 L 166 266 L 162 270 L 158 266 Z" fill="#e6d83f"/>
<path d="M 172 248 L 176 252 L 172 256 L 168 252 Z" fill="#e6d83f"/>
<path d="M 182 261 L 186 265 L 182 269 L 178 265 Z" fill="#e6d83f"/>
<path d="M 192 260 L 196 264 L 192 268 L 188 264 Z" fill="#e6d83f"/>
<path d="M 201 258 L 205 262 L 201 266 L 197 262 Z" fill="#e6d83f"/>
<path d="M 211 262 L 215 266 L 211 270 L 207 266 Z" fill="#e6d83f"/>
<path d="M 221 246 L 225 250 L 221 254 L 217 250 Z" fill="#e6d83f"/>
<path d="M 231 230 L 235 234 L 231 238 L 227 234 Z" fill="#e6d83f"/>
<path d="M 241 233 L 245 237 L 241 241 L 237 237 Z" fill="#e6d83f"/>
<path d="M 251 233 L 255 237 L 251 241 L 247 237 Z" fill="#e6d83f"/>
<path d="M 261 224 L 265 228 L 261 232 L 257 228 Z" fill="#e6d83f"/>
<path d="M 271 220 L 275 224 L 271 228 L 267 224 Z" fill="#e6d83f"/>
<path d="M 281 239 L 285 243 L 281 247 L 277 243 Z" fill="#e6d83f"/>
<path d="M 290 243 L 294 247 L 290 251 L 286 247 Z" fill="#e6d83f"/>
<path d="M 300 212 L 304 216 L 300 220 L 296 216 Z" fill="#e6d83f"/>
<path d="M 310 256 L 314 260 L 310 264 L 306 260 Z" fill="#e6d83f"/>
<path d="M 320 249 L 324 253 L 320 257 L 316 253 Z" fill="#e6d83f"/>
<path d="M 330 243 L 334 247 L 330 251 L 326 247 Z" fill="#e6d83f"/>
<path d="M 340 273 L 344 277 L 340 281 L 336 277 Z" fill="#e6d83f"/>
<path d="M 350 263 L 354 267 L 350 271 L 346 267 Z" fill="#e6d83f"/>
<path d="M 360 258 L 364 262 L 360 266 L 356 262 Z" fill="#e6d83f"/>
<path d="M 369 231 L 373 235 L 369 239 L 365 235 Z" fill="#e6d83f"/>
<path d="M 379 242 L 383 246 L 379 250 L 375 246 Z" fill="#e6d83f"/>
<path d="M 389 241 L 393 245 L 389 249 L 385 245 Z" fill="#e6d83f"/>
<path d="M 399 235 L 403 239 L 399 243 L 395 239 Z" fill="#e6d83f"/>
<path d="M 409 214 L 413 218 L 409 222 L 405 218 Z" fill="#e6d83f"/>
<path d="M 419 230 L 423 234 L 419 238 L 415 234 Z" fill="#e6d83f"/>
<path d="M 429 225 L 433 229 L 429 233 L 425 229 Z" fill="#e6d83f"/>
<path d="M 439 244 L 443 248 L 439 252 L 435 248 Z" fill="#e6d83f"/>
<path d="M 449 233 L 453 237 L 449 241 L 445 237 Z" fill="#e6d83f"/>
<path d="M 458 249 L 462 253 L 458 257 L 454 253 Z" fill="#e6d83f"/>
<path d="M 468 222 L 472 226 L 468 230 L 464 226 Z" fill="#e6d83f"/>
<path d="M 478 192 L 482 196 L 478 200 L 474 196 Z" fill="#e6d83f"/>
<path d="M 488 209 L 492 213 L 488 217 L 484 213 Z" fill="#e6d83f"/>
<path d="M 498 212 L 502 216 L 498 220 L 494 216 Z" fill="#e6d83f"/>
<path d="M 508 246 L 512 250 L 508 254 L 504 250 Z" fill="#e6d83f"/>
<path d="M 518 257 L 522 261 L 518 265 L 514 261 Z" fill="#e6d83f"/>
<path d="M 528 262 L 532 266 L 528 270 L 524 266 Z" fill="#e6d83f"/>
<path d="M 537 256 L 541 260 L 537 264 L 533 260 Z" fill="#e6d83f"/>
<path d="M 547 254 L 551 258 L 547 262 L 543 258 Z" fill="#e6d83f"/>
<path d="M 557 238 L 561 242 L 557 246 L 553 242 Z" fill="#e6d83f"/>
<path d="M 567 221 L 571 225 L 567 229 L 563 225 Z" fill="#e6d83f"/>
<path d="M 577 225 L 581 229 L 577 233 L 573 229 Z" fill="#e6d83f"/>
<path d="M 587 254 L 591 258 L 587 262 L 583 258 Z" fill="#e6d83f"/>
<path d="M 597 258 L 601 262 L 597 266 L 593 262 Z" fill="#e6d83f"/>
<path d="M 607 255 L 611 259 L 607 263 L 603 259 Z" fill="#e6d83f"/>
<path d="M 617 238 L 621 242 L 617 246 L 613 242 Z" fill="#e6d83f"/>
<path d="M 626 247 L 630 251 L 626 255 L 622 251 Z" fill="#e6d83f"/>
<path d="M 636 251 L 640 255 L 636 259 L 632 255 Z" fill="#e6d83f"/>
<path d="M 646 255 L 650 259 L 646 263 L 642 259 Z" fill="#e6d83f"/>
<path d="M 656 266 L 660 270 L 656 274 L 652 270 Z" fill="#e6d83f"/>
<path d="M 666 272 L 670 276 L 666 280 L 662 276 Z" fill="#e6d83f"/>
<path d="M 676 213 L 680 217 L 676 221 L 672 217 Z" fill="#e6d83f"/>
<path d="M 686 138 L 690 142 L 686 146 L 682 142 Z" fill="#e6d83f"/>
<path d="M 696 137 L 700 141 L 696 145 L 692 141 Z" fill="#e6d83f"/>
<path d="M 705 160 L 709 164 L 705 168 L 701 164 Z" fill="#e6d83f"/>
<path d="M 715 128 L 719 132 L 715 136 L 711 132 Z" fill="#e6d83f"/>
<path d="M 725 143 L 729 147 L 725 151 L 721 147 Z" fill="#e6d83f"/>
<path d="M 735 197 L 739 201 L 735 205 L 731 201 Z" fill="#e6d83f"/>
<path d="M 745 182 L 749 186 L 745 190 L 741 186 Z" fill="#e6d83f"/>
<path d="M 755 188 L 759 192 L 755 196 L 751 192 Z" fill="#e6d83f"/>
<path d="M 765 188 L 769 192 L 765 196 L 761 192 Z" fill="#e6d83f"/>
<path d="M 775 228 L 779 232 L 775 236 L 771 232 Z" fill="#e6d83f"/>
<path d="M 785 246 L 789 250 L 785 254 L 781 250 Z" fill="#e6d83f"/>
<path d="M 794 255 L 798 259 L 794 263 L 790 259 Z" fill="#e6d83f"/>
<path d="M 804 256 L 808 260 L 804 264 L 800 260 Z" fill="#e6d83f"/>
<path d="M 814 244 L 818 248 L 814 252 L 810 248 Z" fill="#e6d83f"/>
<path d="M 824 241 L 828 245 L 824 249 L 820 245 Z" fill="#e6d83f"/>
<path d="M 834 275 L 838 279 L 834 283 L 830 279 Z" fill="#e6d83f"/>
<path d="M 844 286 L 848 290 L 844 294 L 840 290 Z" fill="#e6d83f"/>
<path d="M 854 229 L 858 233 L 854 237 L 850 233 Z" fill="#e6d83f"/>
<path d="M 864 250 L 868 254 L 864 258 L 860 254 Z" fill="#e6d83f"/>
<path d="M 873 258 L 877 262 L 873 266 L 869 262 Z" fill="#e6d83f"/>
<path d="M 883 241 L 887 245 L 883 249 L 879 245 Z" fill="#e6d83f"/>
<path d="M 893 233 L 897 237 L 893 241 L 889 237 Z" fill="#e6d83f"/>
<path d="M 903 235 L 907 239 L 903 243 L 899 239 Z" fill="#e6d83f"/>
<path d="M 913 257 L 917 261 L 913 265 L 909 261 Z" fill="#e6d83f"/>
<path d="M 923 229 L 927 233 L 923 237 L 919 233 Z" fill="#e6d83f"/>
<path d="M 933 255 L 937 259 L 933 263 L 929 259 Z" fill="#e6d83f"/>
<path d="M 943 272 L 947 276 L 943 280 L 939 276 Z" fill="#e6d83f"/>
<path d="M 953 261 L 957 265 L 953 269 L 949 265 Z" fill="#e6d83f"/>
<path d="M 962 260 L 966 264 L 962 268 L 958 264 Z" fill="#e6d83f"/>
<path d="M 972 257 L 976 261 L 972 265 L 968 261 Z" fill="#e6d83f"/>
<path d="M 982 258 L 986 262 L 982 266 L 978 262 Z" fill="#e6d83f"/>
<path d="M 992 255 L 996 259 L 992 263 L 988 259 Z" fill="#e6d83f"/>
<path d="M 1002 215 L 1006 219 L 1002 223 L 998 219 Z" fill="#e6d83f"/>
<path d="M 1012 252 L 1016 256 L 1012 260 L 1008 256 Z" fill="#e6d83f"/>
<path d="M 1022 246 L 1026 250 L 1022 254 L 1018 250 Z" fill="#e6d83f"/>
<path d="M 1032 286 L 1036 290 L 1032 294 L 1028 290 Z" fill="#e6d83f"/>
</g>
<g>
<path d="M 122.94 258.53 L 132.82 256.96 L 142.70 281.35 L 152.59 274.27 L 162.47 266.40 L 172.35 252.24 L 182.23 264.83 L 192.11 264.04 L 201.99 262.47 L 211.88 265.61 L 221.76 249.88 L 231.64 234.15 L 241.52 237.29 L 251.40 236.51 L 261.28 227.85 L 271.17 223.92 L 281.05 242.80 L 290.93 246.73 L 300.81 216.05 L 310.69 260.11 L 320.58 253.03 L 330.46 246.73 L 340.34 277.41 L 350.22 267.19 L 360.10 262.47 L 369.98 234.93 L 379.87 245.95 L 389.75 245.16 L 399.63 238.87 L 409.51 217.63 L 419.39 234.15 L 429.27 228.64 L 439.16 248.31 L 449.04 237.29 L 458.92 253.03 L 468.80 226.28 L 478.68 196.39 L 488.56 212.91 L 498.45 216.05 L 508.33 249.88 L 518.21 260.89 L 528.09 265.61 L 537.97 260.11 L 547.85 257.75 L 557.74 242.01 L 567.62 225.49 L 577.50 228.64 L 587.38 257.75 L 597.26 262.47 L 607.15 258.53 L 617.03 242.01 L 626.91 250.67 L 636.79 255.39 L 646.67 258.53 L 656.55 269.55 L 666.44 275.84 L 676.32 216.84 L 686.20 142.11 L 696.08 140.53 L 705.96 164.13 L 715.84 131.88 L 725.73 146.83 L 735.61 201.11 L 745.49 186.16 L 755.37 192.45 L 765.25 192.45 L 775.13 231.79 L 785.02 249.88 L 794.90 259.32 L 804.78 260.11 L 814.66 248.31 L 824.54 245.16 L 834.42 278.99 L 844.31 290.00 L 854.19 232.57 L 864.07 253.81 L 873.95 261.68 L 883.83 245.16 L 893.72 237.29 L 903.60 238.87 L 913.48 260.89 L 923.36 232.57 L 933.24 258.53 L 943.12 275.84 L 953.01 264.83 L 962.89 264.04 L 972.77 260.89 L 982.65 262.47 L 992.53 259.32 L 1002.41 219.20 L 1012.30 256.17 L 1022.18 249.88 L 1032.06 290.00 L 1032.06 290.00 L 1022.18 290.00 L 1012.30 290.00 L 1002.41 290.00 L 992.53 290.00 L 982.65 290.00 L 972.77 290.00 L 962.89 290.00 L 953.01 290.00 L 943.12 290.00 L 933.24 290.00 L 923.36 290.00 L 913.48 290.00 L 903.60 290.00 L 893.72 290.00 L 883.83 290.00 L 873.95 290.00 L 864.07 290.00 L 854.19 290.00 L 844.31 290.00 L 834.42 290.00 L 824.54 290.00 L 814.66 290.00 L 804.78 290.00 L 794.90 290.00 L 785.02 290.00 L 775.13 290.00 L 765.25 290.00 L 755.37 290.00 L 745.49 290.00 L 735.61 290.00 L 725.73 290.00 L 715.84 290.00 L 705.96 290.00 L 696.08 290.00 L 686.20 290.00 L 676.32 290.00 L 666.44 290.00 L 656.55 290.00 L 646.67 290.00 L 636.79 290.00 L 626.91 290.00 L 617.03 290.00 L 607.15 290.00 L 597.26 290.00 L 587.38 290.00 L 577.50 290.00 L 567.62 290.00 L 557.74 290.00 L 547.85 290.00 L 537.97 290.00 L 528.09 290.00 L 518.21 290.00 L 508.33 290.00 L 498.45 290.00 L 488.56 290.00 L 478.68 290.00 L 468.80 290.00 L 458.92 290.00 L 449.04 290.00 L 439.16 290.00 L 429.27 290.00 L 419.39 290.00 L 409.51 290.00 L 399.63 290.00 L 389.75 290.00 L 379.87 290.00 L 369.98 290.00 L 360.10 290.00 L 350.22 290.00 L 340.34 290.00 L 330.46 290.00 L 320.58 290.00 L 310.69 290.00 L 300.81 290.00 L 290.93 290.00 L 281.05 290.00 L 271.17 290.00 L 261.28 290.00 L 251.40 290.00 L 241.52 290.00 L 231.64 290.00 L 221.76 290.00 L 211.88 290.00 L 201.99 290.00 L 192.11 290.00 L 182.23 290.00 L 172.35 290.00 L 162.47 290.00 L 152.59 290.00 L 142.70 290.00 L 132.82 290.00 L 122.94 290.00 Z" fill="#02968f" fill-opacity="0.75" stroke="none"/>
<path d="M 122.94 258.53 L 132.82 256.96 L 142.70 281.35 L 152.59 274.27 L 162.47 266.40 L 172.35 252.24 L 182.23 264.83 L 192.11 264.04 L 201.99 262.47 L 211.88 265.61 L 221.76 249.88 L 231.64 234.15 L 241.52 237.29 L 251.40 236.51 L 261.28 227.85 L 271.17 223.92 L 281.05 242.80 L 290.93 246.73 L 300.81 216.05 L 310.69 260.11 L 320.58 253.03 L 330.46 246.73 L 340.34 277.41 L 350.22 267.19 L 360.10 262.47 L 369.98 234.93 L 379.87 245.95 L 389.75 245.16 L 399.63 238.87 L 409.51 217.63 L 419.39 234.15 L 429.27 228.64 L 439.16 248.31 L 449.04 237.29 L 458.92 253.03 L 468.80 226.28 L 478.68 196.39 L 488.56 212.91 L 498.45 216.05 L 508.33 249.88 L 518.21 260.89 L 528.09 265.61 L 537.97 260.11 L 547.85 257.75 L 557.74 242.01 L 567.62 225.49 L 577.50 228.64 L 587.38 257.75 L 597.26 262.47 L 607.15 258.53 L 617.03 242.01 L 626.91 250.67 L 636.79 255.39 L 646.67 258.53 L 656.55 269.55 L 666.44 275.84 L 676.32 216.84 L 686.20 142.11 L 696.08 140.53 L 705.96 164.13 L 715.84 131.88 L 725.73 146.83 L 735.61 201.11 L 745.49 186.16 L 755.37 192.45 L 765.25 192.45 L 775.13 231.79 L 785.02 249.88 L 794.90 259.32 L 804.78 260.11 L 814.66 248.31 L 824.54 245.16 L 834.42 278.99 L 844.31 290.00 L 854.19 232.57 L 864.07 253.81 L 873.95 261.68 L 883.83 245.16 L 893.72 237.29 L 903.60 238.87 L 913.48 260.89 L 923.36 232.57 L 933.24 258.53 L 943.12 275.84 L 953.01 264.83 L 962.89 264.04 L 972.77 260.89 L 982.65 262.47 L 992.53 259.32 L 1002.41 219.20 L 1012.30 256.17 L 1022.18 249.88 L 1032.06 290.00" fill="none" stroke="#666666" stroke-width="1" stroke-linejoin="round" stroke-linecap="round"/>
</g><g>
<rect x="118" y="255" width="8" height="8" fill="#02968f"/>
<rect x="128" y="253" width="8" height="8" fill="#02968f"/>
<rect x="138" y="277" width="8" height="8" fill="#02968f"/>
<rect x="148" y="270" width="8" height="8" fill="#02968f"/>
<rect x="158" y="262" width="8" height="8" fill="#02968f"/>
<rect x="168" y="248" width="8" height="8" fill="#02968f"/>
<rect x="178" y="261" width="8" height="8" fill="#02968f"/>
<rect x="188" y="260" width="8" height="8" fill="#02968f"/>
<rect x="197" y="258" width="8" height="8" fill="#02968f"/>
<rect x="207" y="262" width="8" height="8" fill="#02968f"/>
<rect x="217" y="246" width="8" height="8" fill="#02968f"/>
<rect x="227" y="230" width="8" height="8" fill="#02968f"/>
<rect x="237" y="233" width="8" height="8" fill="#02968f"/>
<rect x="247" y="233" width="8" height="8" fill="#02968f"/>
<rect x="257" y="224" width="8" height="8" fill="#02968f"/>
<rect x="267" y="220" width="8" height="8" fill="#02968f"/>
<rect x="277" y="239" width="8" height="8" fill="#02968f"/>
<rect x="286" y="243" width="8" height="8" fill="#02968f"/>
<rect x="296" y="212" width="8" height="8" fill="#02968f"/>
<rect x="306" y="256" width="8" height="8" fill="#02968f"/>
<rect x="316" y="249" width="8" height="8" fill="#02968f"/>
<rect x="326" y="243" width="8" height="8" fill="#02968f"/>
<rect x="336" y="273" width="8" height="8" fill="#02968f"/>
<rect x="346" y="263" width="8" height="8" fill="#02968f"/>
<rect x="356" y="258" width="8" height="8" fill="#02968f"/>
<rect x="365" y="231" width="8" height="8" fill="#02968f"/>
<rect x="375" y="242" width="8" height="8" fill="#02968f"/>
<rect x="385" y="241" width="8" height="8" fill="#02968f"/>
<rect x="395" y="235" width="8" height="8" fill="#02968f"/>
<rect x="405" y="214" width="8" height="8" fill="#02968f"/>
<rect x="415" y="230" width="8" height="8" fill="#02968f"/>
<rect x="425" y="225" width="8" height="8" fill="#02968f"/>
<rect x="435" y="244" width="8" height="8" fill="#02968f"/>
<rect x="445" y="233" width="8" height="8" fill="#02968f"/>
<rect x="454" y="249" width="8" height="8" fill="#02968f"/>
<rect x="464" y="222" width="8" height="8" fill="#02968f"/>
<rect x="474" y="192" width="8" height="8" fill="#02968f"/>
<rect x="484" y="209" width="8" height="8" fill="#02968f"/>
<rect x="494" y="212" width="8" height="8" fill="#02968f"/>
<rect x="504" y="246" width="8" height="8" fill="#02968f"/>
<rect x="514" y="257" width="8" height="8" fill="#02968f"/>
<rect x="524" y="262" width="8" height="8" fill="#02968f"/>
<rect x="533" y="256" width="8" height="8" fill="#02968f"/>
<rect x="543" y="254" width="8" height="8" fill="#02968f"/>
<rect x="553" y="238" width="8" height="8" fill="#02968f"/>
<rect x="563" y="221" width="8" height="8" fill="#02968f"/>
<rect x="573" y="225" width="8" height="8" fill="#02968f"/>
<rect x="583" y="254" width="8" height="8" fill="#02968f"/>
<rect x="593" y="258" width="8" height="8" fill="#02968f"/>
<rect x="603" y="255" width="8" height="8" fill="#02968f"/>
<rect x="613" y="238" width="8" height="8" fill="#02968f"/>
<rect x="622" y="247" width="8" height="8" fill="#02968f"/>
<rect x="632" y="251" width="8" height="8" fill="#02968f"/>
<rect x="642" y="255" width="8" height="8" fill="#02968f"/>
<rect x="652" y="266" width="8" height="8" fill="#02968f"/>
<rect x="662" y="272" width="8" height="8" fill="#02968f"/>
<rect x="672" y="213" width="8" height="8" fill="#02968f"/>
<rect x="682" y="138" width="8" height="8" fill="#02968f"/>
<rect x="692" y="137" width="8" height="8" fill="#02968f"/>
<rect x="701" y="160" width="8" height="8" fill="#02968f"/>
<rect x="711" y="128" width="8" height="8" fill="#02968f"/>
<rect x="721" y="143" width="8" height="8" fill="#02968f"/>
<rect x="731" y="197" width="8" height="8" fill="#02968f"/>
<rect x="741" y="182" width="8" height="8" fill="#02968f"/>
<rect x="751" y="188" width="8" height="8" fill="#02968f"/>
<rect x="761" y="188" width="8" height="8" fill="#02968f"/>
<rect x="771" y="228" width="8" height="8" fill="#02968f"/>
<rect x="781" y="246" width="8" height="8" fill="#02968f"/>
<rect x="790" y="255" width="8" height="8" fill="#02968f"/>
<rect x="800" y="256" width="8" height="8" fill="#02968f"/>
<rect x="810" y="244" width="8" height="8" fill="#02968f"/>
<rect x="820" y="241" width="8" height="8" fill="#02968f"/>
<rect x="830" y="275" width="8" height="8" fill="#02968f"/>
<rect x="840" y="286" width="8" height="8" fill="#02968f"/>
<rect x="850" y="229" width="8" height="8" fill="#02968f"/>
<rect x="860" y="250" width="8" height="8" fill="#02968f"/>
<rect x="869" y="258" width="8" height="8" fill="#02968f"/>
<rect x="879" y="241" width="8" height="8" fill="#02968f"/>
<rect x="889" y="233" width="8" height="8" fill="#02968f"/>
<rect x="899" y="235" width="8" height="8" fill="#02968f"/>
<rect x="909" y="257" width="8" height="8" fill="#02968f"/>
<rect x="919" y="229" width="8" height="8" fill="#02968f"/>
<rect x="929" y="255" width="8" height="8" fill="#02968f"/>
<rect x="939" y="272" width="8" height="8" fill="#02968f"/>
<rect x="949" y="261" width="8" height="8" fill="#02968f"/>
<rect x="958" y="260" width="8" height="8" fill="#02968f"/>
<rect x="968" y="257" width="8" height="8" fill="#02968f"/>
<rect x="978" y="258" width="8" height="8" fill="#02968f"/>
<rect x="988" y="255" width="8" height="8" fill="#02968f"/>
<rect x="998" y="215" width="8" height="8" fill="#02968f"/>
<rect x="1008" y="252" width="8" height="8" fill="#02968f"/>
<rect x="1018" y="246" width="8" height="8" fill="#02968f"/>
<rect x="1028" y="286" width="8" height="8" fill="#02968f"/>
</g>
</g>
<text x="547" y="32.1" text-anchor="middle" textLength="341.5" lengthAdjust="spacingAndGlyphs" style="font-size:18px;fill:#333333;stroke:#333333;stroke-width:0.35px"># of Malware Samples per Ransomware</text>
<text x="72" y="172.5" text-anchor="middle" transform="rotate(270 72 172.5)" textLength="126.5" lengthAdjust="spacingAndGlyphs" style="font-size:12px;fill:#606060;stroke:#606060;stroke-width:0.4px"># of Malware Samples</text>
<text x="103" y="294.8" text-anchor="end" style="font-size:11px;fill:#606060;stroke:#606060;stroke-width:0.3px">0</text>
<text x="103" y="216.467" text-anchor="end" style="font-size:11px;fill:#606060;stroke:#606060;stroke-width:0.3px">100</text>
<text x="103" y="138.133" text-anchor="end" style="font-size:11px;fill:#606060;stroke:#606060;stroke-width:0.3px">200</text>
<text x="103" y="59.8" text-anchor="end" style="font-size:11px;fill:#606060;stroke:#606060;stroke-width:0.3px">300</text>
<text x="125.94" y="306" text-anchor="end" transform="rotate(-45 125.94 306)" style="font-size:11px;fill:#606060;stroke:#606060;stroke-width:0.2px">2016<tspan textLength="6.17" lengthAdjust="spacingAndGlyphs">-</tspan>06<tspan textLength="6.17" lengthAdjust="spacingAndGlyphs">-</tspan>30</text>
<text x="145.70" y="306" text-anchor="end" transform="rotate(-45 145.70 306)" style="font-size:11px;fill:#606060;stroke:#606060;stroke-width:0.2px">2016<tspan textLength="6.17" lengthAdjust="spacingAndGlyphs">-</tspan>07<tspan textLength="6.17" lengthAdjust="spacingAndGlyphs">-</tspan>02</text>
<text x="165.47" y="306" text-anchor="end" transform="rotate(-45 165.47 306)" style="font-size:11px;fill:#606060;stroke:#606060;stroke-width:0.2px">2016<tspan textLength="6.17" lengthAdjust="spacingAndGlyphs">-</tspan>07<tspan textLength="6.17" lengthAdjust="spacingAndGlyphs">-</tspan>04</text>
<text x="185.23" y="306" text-anchor="end" transform="rotate(-45 185.23 306)" style="font-size:11px;fill:#606060;stroke:#606060;stroke-width:0.2px">2016<tspan textLength="6.17" lengthAdjust="spacingAndGlyphs">-</tspan>07<tspan textLength="6.17" lengthAdjust="spacingAndGlyphs">-</tspan>06</text>
<text x="204.99" y="306" text-anchor="end" transform="rotate(-45 204.99 306)" style="font-size:11px;fill:#606060;stroke:#606060;stroke-width:0.2px">2016<tspan textLength="6.17" lengthAdjust="spacingAndGlyphs">-</tspan>07<tspan textLength="6.17" lengthAdjust="spacingAndGlyphs">-</tspan>08</text>
<text x="224.76" y="306" text-anchor="end" transform="rotate(-45 224.76 306)" style="font-size:11px;fill:#606060;stroke:#606060;stroke-width:0.2px">2016<tspan textLength="6.17" lengthAdjust="spacingAndGlyphs">-</tspan>07<tspan textLength="6.17" lengthAdjust="spacingAndGlyphs">-</tspan>10</text>
<text x="244.52" y="306" text-anchor="end" transform="rotate(-45 244.52 306)" style="font-size:11px;fill:#606060;stroke:#606060;stroke-width:0.2px">2016<tspan textLength="6.17" lengthAdjust="spacingAndGlyphs">-</tspan>07<tspan textLength="6.17" lengthAdjust="spacingAndGlyphs">-</tspan>12</text>
<text x="264.28" y="306" text-anchor="end" transform="rotate(-45 264.28 306)" style="font-size:11px;fill:#606060;stroke:#606060;stroke-width:0.2px">2016<tspan textLength="6.17" lengthAdjust="spacingAndGlyphs">-</tspan>07<tspan textLength="6.17" lengthAdjust="spacingAndGlyphs">-</tspan>14</text>
<text x="284.05" y="306" text-anchor="end" transform="rotate(-45 284.05 306)" style="font-size:11px;fill:#606060;stroke:#606060;stroke-width:0.2px">2016<tspan textLength="6.17" lengthAdjust="spacingAndGlyphs">-</tspan>07<tspan textLength="6.17" lengthAdjust="spacingAndGlyphs">-</tspan>16</text>
<text x="303.81" y="306" text-anchor="end" transform="rotate(-45 303.81 306)" style="font-size:11px;fill:#606060;stroke:#606060;stroke-width:0.2px">2016<tspan textLength="6.17" lengthAdjust="spacingAndGlyphs">-</tspan>07<tspan textLength="6.17" lengthAdjust="spacingAndGlyphs">-</tspan>18</text>
<text x="323.58" y="306" text-anchor="end" transform="rotate(-45 323.58 306)" style="font-size:11px;fill:#606060;stroke:#606060;stroke-width:0.2px">2016<tspan textLength="6.17" lengthAdjust="spacingAndGlyphs">-</tspan>07<tspan textLength="6.17" lengthAdjust="spacingAndGlyphs">-</tspan>20</text>
<text x="343.34" y="306" text-anchor="end" transform="rotate(-45 343.34 306)" style="font-size:11px;fill:#606060;stroke:#606060;stroke-width:0.2px">2016<tspan textLength="6.17" lengthAdjust="spacingAndGlyphs">-</tspan>07<tspan textLength="6.17" lengthAdjust="spacingAndGlyphs">-</tspan>22</text>
<text x="363.10" y="306" text-anchor="end" transform="rotate(-45 363.10 306)" style="font-size:11px;fill:#606060;stroke:#606060;stroke-width:0.2px">2016<tspan textLength="6.17" lengthAdjust="spacingAndGlyphs">-</tspan>07<tspan textLength="6.17" lengthAdjust="spacingAndGlyphs">-</tspan>24</text>
<text x="382.87" y="306" text-anchor="end" transform="rotate(-45 382.87 306)" style="font-size:11px;fill:#606060;stroke:#606060;stroke-width:0.2px">2016<tspan textLength="6.17" lengthAdjust="spacingAndGlyphs">-</tspan>07<tspan textLength="6.17" lengthAdjust="spacingAndGlyphs">-</tspan>26</text>
<text x="402.63" y="306" text-anchor="end" transform="rotate(-45 402.63 306)" style="font-size:11px;fill:#606060;stroke:#606060;stroke-width:0.2px">2016<tspan textLength="6.17" lengthAdjust="spacingAndGlyphs">-</tspan>07<tspan textLength="6.17" lengthAdjust="spacingAndGlyphs">-</tspan>28</text>
<text x="422.39" y="306" text-anchor="end" transform="rotate(-45 422.39 306)" style="font-size:11px;fill:#606060;stroke:#606060;stroke-width:0.2px">2016<tspan textLength="6.17" lengthAdjust="spacingAndGlyphs">-</tspan>07<tspan textLength="6.17" lengthAdjust="spacingAndGlyphs">-</tspan>30</text>
<text x="442.16" y="306" text-anchor="end" transform="rotate(-45 442.16 306)" style="font-size:11px;fill:#606060;stroke:#606060;stroke-width:0.2px">2016<tspan textLength="6.17" lengthAdjust="spacingAndGlyphs">-</tspan>08<tspan textLength="6.17" lengthAdjust="spacingAndGlyphs">-</tspan>01</text>
<text x="461.92" y="306" text-anchor="end" transform="rotate(-45 461.92 306)" style="font-size:11px;fill:#606060;stroke:#606060;stroke-width:0.2px">2016<tspan textLength="6.17" lengthAdjust="spacingAndGlyphs">-</tspan>08<tspan textLength="6.17" lengthAdjust="spacingAndGlyphs">-</tspan>03</text>
<text x="481.68" y="306" text-anchor="end" transform="rotate(-45 481.68 306)" style="font-size:11px;fill:#606060;stroke:#606060;stroke-width:0.2px">2016<tspan textLength="6.17" lengthAdjust="spacingAndGlyphs">-</tspan>08<tspan textLength="6.17" lengthAdjust="spacingAndGlyphs">-</tspan>05</text>
<text x="501.45" y="306" text-anchor="end" transform="rotate(-45 501.45 306)" style="font-size:11px;fill:#606060;stroke:#606060;stroke-width:0.2px">2016<tspan textLength="6.17" lengthAdjust="spacingAndGlyphs">-</tspan>08<tspan textLength="6.17" lengthAdjust="spacingAndGlyphs">-</tspan>07</text>
<text x="521.21" y="306" text-anchor="end" transform="rotate(-45 521.21 306)" style="font-size:11px;fill:#606060;stroke:#606060;stroke-width:0.2px">2016<tspan textLength="6.17" lengthAdjust="spacingAndGlyphs">-</tspan>08<tspan textLength="6.17" lengthAdjust="spacingAndGlyphs">-</tspan>09</text>
<text x="540.97" y="306" text-anchor="end" transform="rotate(-45 540.97 306)" style="font-size:11px;fill:#606060;stroke:#606060;stroke-width:0.2px">2016<tspan textLength="6.17" lengthAdjust="spacingAndGlyphs">-</tspan>08<tspan textLength="6.17" lengthAdjust="spacingAndGlyphs">-</tspan>11</text>
<text x="560.74" y="306" text-anchor="end" transform="rotate(-45 560.74 306)" style="font-size:11px;fill:#606060;stroke:#606060;stroke-width:0.2px">2016<tspan textLength="6.17" lengthAdjust="spacingAndGlyphs">-</tspan>08<tspan textLength="6.17" lengthAdjust="spacingAndGlyphs">-</tspan>13</text>
<text x="580.50" y="306" text-anchor="end" transform="rotate(-45 580.50 306)" style="font-size:11px;fill:#606060;stroke:#606060;stroke-width:0.2px">2016<tspan textLength="6.17" lengthAdjust="spacingAndGlyphs">-</tspan>08<tspan textLength="6.17" lengthAdjust="spacingAndGlyphs">-</tspan>15</text>
<text x="600.26" y="306" text-anchor="end" transform="rotate(-45 600.26 306)" style="font-size:11px;fill:#606060;stroke:#606060;stroke-width:0.2px">2016<tspan textLength="6.17" lengthAdjust="spacingAndGlyphs">-</tspan>08<tspan textLength="6.17" lengthAdjust="spacingAndGlyphs">-</tspan>17</text>
<text x="620.03" y="306" text-anchor="end" transform="rotate(-45 620.03 306)" style="font-size:11px;fill:#606060;stroke:#606060;stroke-width:0.2px">2016<tspan textLength="6.17" lengthAdjust="spacingAndGlyphs">-</tspan>08<tspan textLength="6.17" lengthAdjust="spacingAndGlyphs">-</tspan>19</text>
<text x="639.79" y="306" text-anchor="end" transform="rotate(-45 639.79 306)" style="font-size:11px;fill:#606060;stroke:#606060;stroke-width:0.2px">2016<tspan textLength="6.17" lengthAdjust="spacingAndGlyphs">-</tspan>08<tspan textLength="6.17" lengthAdjust="spacingAndGlyphs">-</tspan>21</text>
<text x="659.55" y="306" text-anchor="end" transform="rotate(-45 659.55 306)" style="font-size:11px;fill:#606060;stroke:#606060;stroke-width:0.2px">2016<tspan textLength="6.17" lengthAdjust="spacingAndGlyphs">-</tspan>08<tspan textLength="6.17" lengthAdjust="spacingAndGlyphs">-</tspan>23</text>
<text x="679.32" y="306" text-anchor="end" transform="rotate(-45 679.32 306)" style="font-size:11px;fill:#606060;stroke:#606060;stroke-width:0.2px">2016<tspan textLength="6.17" lengthAdjust="spacingAndGlyphs">-</tspan>08<tspan textLength="6.17" lengthAdjust="spacingAndGlyphs">-</tspan>25</text>
<text x="699.08" y="306" text-anchor="end" transform="rotate(-45 699.08 306)" style="font-size:11px;fill:#606060;stroke:#606060;stroke-width:0.2px">2016<tspan textLength="6.17" lengthAdjust="spacingAndGlyphs">-</tspan>08<tspan textLength="6.17" lengthAdjust="spacingAndGlyphs">-</tspan>27</text>
<text x="718.84" y="306" text-anchor="end" transform="rotate(-45 718.84 306)" style="font-size:11px;fill:#606060;stroke:#606060;stroke-width:0.2px">2016<tspan textLength="6.17" lengthAdjust="spacingAndGlyphs">-</tspan>08<tspan textLength="6.17" lengthAdjust="spacingAndGlyphs">-</tspan>29</text>
<text x="738.61" y="306" text-anchor="end" transform="rotate(-45 738.61 306)" style="font-size:11px;fill:#606060;stroke:#606060;stroke-width:0.2px">2016<tspan textLength="6.17" lengthAdjust="spacingAndGlyphs">-</tspan>08<tspan textLength="6.17" lengthAdjust="spacingAndGlyphs">-</tspan>31</text>
<text x="758.37" y="306" text-anchor="end" transform="rotate(-45 758.37 306)" style="font-size:11px;fill:#606060;stroke:#606060;stroke-width:0.2px">2016<tspan textLength="6.17" lengthAdjust="spacingAndGlyphs">-</tspan>09<tspan textLength="6.17" lengthAdjust="spacingAndGlyphs">-</tspan>02</text>
<text x="778.13" y="306" text-anchor="end" transform="rotate(-45 778.13 306)" style="font-size:11px;fill:#606060;stroke:#606060;stroke-width:0.2px">2016<tspan textLength="6.17" lengthAdjust="spacingAndGlyphs">-</tspan>09<tspan textLength="6.17" lengthAdjust="spacingAndGlyphs">-</tspan>04</text>
<text x="797.90" y="306" text-anchor="end" transform="rotate(-45 797.90 306)" style="font-size:11px;fill:#606060;stroke:#606060;stroke-width:0.2px">2016<tspan textLength="6.17" lengthAdjust="spacingAndGlyphs">-</tspan>09<tspan textLength="6.17" lengthAdjust="spacingAndGlyphs">-</tspan>06</text>
<text x="817.66" y="306" text-anchor="end" transform="rotate(-45 817.66 306)" style="font-size:11px;fill:#606060;stroke:#606060;stroke-width:0.2px">2016<tspan textLength="6.17" lengthAdjust="spacingAndGlyphs">-</tspan>09<tspan textLength="6.17" lengthAdjust="spacingAndGlyphs">-</tspan>08</text>
<text x="837.42" y="306" text-anchor="end" transform="rotate(-45 837.42 306)" style="font-size:11px;fill:#606060;stroke:#606060;stroke-width:0.2px">2016<tspan textLength="6.17" lengthAdjust="spacingAndGlyphs">-</tspan>09<tspan textLength="6.17" lengthAdjust="spacingAndGlyphs">-</tspan>10</text>
<text x="857.19" y="306" text-anchor="end" transform="rotate(-45 857.19 306)" style="font-size:11px;fill:#606060;stroke:#606060;stroke-width:0.2px">2016<tspan textLength="6.17" lengthAdjust="spacingAndGlyphs">-</tspan>09<tspan textLength="6.17" lengthAdjust="spacingAndGlyphs">-</tspan>12</text>
<text x="876.95" y="306" text-anchor="end" transform="rotate(-45 876.95 306)" style="font-size:11px;fill:#606060;stroke:#606060;stroke-width:0.2px">2016<tspan textLength="6.17" lengthAdjust="spacingAndGlyphs">-</tspan>09<tspan textLength="6.17" lengthAdjust="spacingAndGlyphs">-</tspan>14</text>
<text x="896.72" y="306" text-anchor="end" transform="rotate(-45 896.72 306)" style="font-size:11px;fill:#606060;stroke:#606060;stroke-width:0.2px">2016<tspan textLength="6.17" lengthAdjust="spacingAndGlyphs">-</tspan>09<tspan textLength="6.17" lengthAdjust="spacingAndGlyphs">-</tspan>16</text>
<text x="916.48" y="306" text-anchor="end" transform="rotate(-45 916.48 306)" style="font-size:11px;fill:#606060;stroke:#606060;stroke-width:0.2px">2016<tspan textLength="6.17" lengthAdjust="spacingAndGlyphs">-</tspan>09<tspan textLength="6.17" lengthAdjust="spacingAndGlyphs">-</tspan>18</text>
<text x="936.24" y="306" text-anchor="end" transform="rotate(-45 936.24 306)" style="font-size:11px;fill:#606060;stroke:#606060;stroke-width:0.2px">2016<tspan textLength="6.17" lengthAdjust="spacingAndGlyphs">-</tspan>09<tspan textLength="6.17" lengthAdjust="spacingAndGlyphs">-</tspan>20</text>
<text x="956.01" y="306" text-anchor="end" transform="rotate(-45 956.01 306)" style="font-size:11px;fill:#606060;stroke:#606060;stroke-width:0.2px">2016<tspan textLength="6.17" lengthAdjust="spacingAndGlyphs">-</tspan>09<tspan textLength="6.17" lengthAdjust="spacingAndGlyphs">-</tspan>22</text>
<text x="975.77" y="306" text-anchor="end" transform="rotate(-45 975.77 306)" style="font-size:11px;fill:#606060;stroke:#606060;stroke-width:0.2px">2016<tspan textLength="6.17" lengthAdjust="spacingAndGlyphs">-</tspan>09<tspan textLength="6.17" lengthAdjust="spacingAndGlyphs">-</tspan>24</text>
<text x="995.53" y="306" text-anchor="end" transform="rotate(-45 995.53 306)" style="font-size:11px;fill:#606060;stroke:#606060;stroke-width:0.2px">2016<tspan textLength="6.17" lengthAdjust="spacingAndGlyphs">-</tspan>09<tspan textLength="6.17" lengthAdjust="spacingAndGlyphs">-</tspan>26</text>
<text x="1015.30" y="306" text-anchor="end" transform="rotate(-45 1015.30 306)" style="font-size:11px;fill:#606060;stroke:#606060;stroke-width:0.2px">2016<tspan textLength="6.17" lengthAdjust="spacingAndGlyphs">-</tspan>09<tspan textLength="6.17" lengthAdjust="spacingAndGlyphs">-</tspan>28</text>
<text x="1035.06" y="306" text-anchor="end" transform="rotate(-45 1035.06 306)" style="font-size:11px;fill:#606060;stroke:#606060;stroke-width:0.2px">2016<tspan textLength="6.17" lengthAdjust="spacingAndGlyphs">-</tspan>09<tspan textLength="6.17" lengthAdjust="spacingAndGlyphs">-</tspan>30</text>
<circle cx="163.2" cy="381" r="6" fill="#6eb1ef"/>
<text x="176.2" y="385.5" textLength="66.3" lengthAdjust="spacingAndGlyphs" style="font-size:12px;font-weight:bold;fill:#2e2e2e">TeslaCrypt</text>
<circle cx="270.9" cy="381" r="6" fill="#434348"/>
<text x="283.9" y="385.5" textLength="66.7" lengthAdjust="spacingAndGlyphs" style="font-size:12px;font-weight:bold;fill:#2e2e2e">CryptoWall</text>
<circle cx="379" cy="381" r="6" fill="#6bef7b"/>
<text x="392" y="385.5" textLength="87" lengthAdjust="spacingAndGlyphs" style="font-size:12px;font-weight:bold;fill:#2e2e2e">TorrentLocker</text>
<circle cx="508" cy="381" r="6" fill="#fb9a4e"/>
<text x="521" y="385.5" textLength="55.3" lengthAdjust="spacingAndGlyphs" style="font-size:12px;font-weight:bold;fill:#2e2e2e">PadCrypt</text>
<circle cx="605" cy="381" r="6" fill="#8578e8"/>
<text x="618" y="385.5" textLength="35.4" lengthAdjust="spacingAndGlyphs" style="font-size:12px;font-weight:bold;fill:#2e2e2e">Locky</text>
<circle cx="681.6" cy="381" r="6" fill="#f8367a"/>
<text x="694.6" y="385.5" style="font-size:12px;font-weight:bold;fill:#2e2e2e"><tspan textLength="25.4" lengthAdjust="spacingAndGlyphs">CTB</tspan><tspan textLength="6.6" lengthAdjust="spacingAndGlyphs">-</tspan><tspan textLength="41.2" lengthAdjust="spacingAndGlyphs">Locker</tspan></text>
<circle cx="795.9" cy="381" r="6" fill="#e6d83f"/>
<text x="808.9" y="385.5" textLength="47.8" lengthAdjust="spacingAndGlyphs" style="font-size:12px;font-weight:bold;fill:#2e2e2e">FAKBEN</text>
<circle cx="885.4" cy="381" r="6" fill="#02968f"/>
<text x="898.4" y="385.5" textLength="40.2" lengthAdjust="spacingAndGlyphs" style="font-size:12px;font-weight:bold;fill:#2e2e2e">Cerber</text>
<text x="1037" y="404" text-anchor="end" textLength="68.5" lengthAdjust="spacingAndGlyphs" style="font-size:9px;fill:#999999;stroke:#999999;stroke-width:0.25px">Highcharts.com</text>
<path d="M 1019 25.5 L 1033 25.5 M 1019 30.5 L 1033 30.5 M 1019 35.5 L 1033 35.5" stroke="#666666" stroke-width="3" stroke-linecap="round" fill="none"/>
</svg>
</body></html>
